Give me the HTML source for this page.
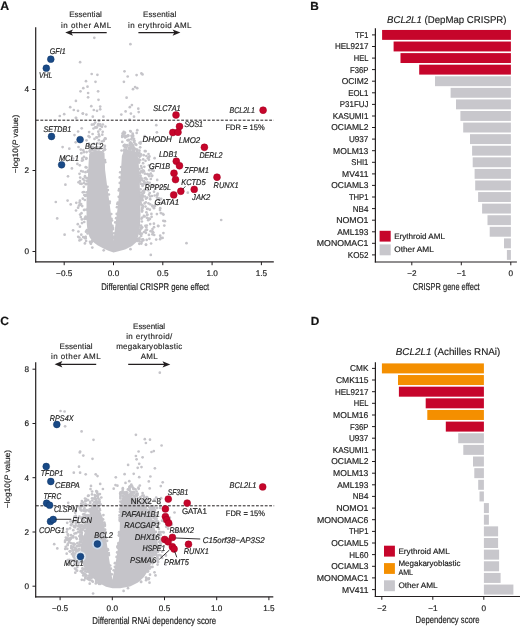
<!DOCTYPE html>
<html><head><meta charset="utf-8"><title>BCL2L1 dependency</title>
<style>
html,body{margin:0;padding:0;background:#fff;}
body{width:520px;height:627px;overflow:hidden;}
svg{display:block;font-family:"Liberation Sans",sans-serif;text-rendering:geometricPrecision;will-change:transform;}
</style></head><body>
<svg width="520" height="627" viewBox="0 0 520 627">
<rect width="520" height="627" fill="#fff"/>
<text x="0.3" y="10.4" font-size="12.3" text-anchor="start" fill="#111" stroke="#111" stroke-width="0.18" font-weight="bold" >A</text>
<text x="69.2" y="17.3" font-size="8.0" text-anchor="start" fill="#262626" stroke="#262626" stroke-width="0.15"  textLength="32.7" lengthAdjust="spacing" >Essential</text>
<text x="61.0" y="27.5" font-size="8.0" text-anchor="start" fill="#262626" stroke="#262626" stroke-width="0.15"  textLength="50.2" lengthAdjust="spacing" >in other AML</text>
<text x="143.1" y="17.3" font-size="8.0" text-anchor="start" fill="#262626" stroke="#262626" stroke-width="0.15"  textLength="33.1" lengthAdjust="spacing" >Essential</text>
<text x="128.1" y="27.5" font-size="8.0" text-anchor="start" fill="#262626" stroke="#262626" stroke-width="0.15"  textLength="63.4" lengthAdjust="spacing" >in erythroid AML</text>
<line x1="69.2" y1="32.6" x2="106.7" y2="32.6" stroke="#231f20" stroke-width="1.25" />
<path d="M65.2,32.6 L73.0,29.4 L71.2,32.6 L73.0,35.8 Z" fill="#231f20"/>
<line x1="138.4" y1="32.6" x2="176.4" y2="32.6" stroke="#231f20" stroke-width="1.25" />
<path d="M180.4,32.6 L172.6,29.4 L174.4,32.6 L172.6,35.8 Z" fill="#231f20"/>
<g fill="#c5c4c9"><circle cx="99.3" cy="148.7" r="1.35"/><circle cx="102.0" cy="126.8" r="1.35"/><circle cx="93.4" cy="147.9" r="1.35"/><circle cx="102.3" cy="134.7" r="1.35"/><circle cx="93.5" cy="128.5" r="1.35"/><circle cx="92.6" cy="134.0" r="1.35"/><circle cx="97.1" cy="137.5" r="1.35"/><circle cx="99.2" cy="151.6" r="1.35"/><circle cx="91.9" cy="124.7" r="1.35"/><circle cx="99.0" cy="120.9" r="1.35"/><circle cx="88.6" cy="136.2" r="1.35"/><circle cx="96.4" cy="149.3" r="1.35"/><circle cx="99.3" cy="136.2" r="1.35"/><circle cx="96.9" cy="127.5" r="1.35"/><circle cx="100.5" cy="126.0" r="1.35"/><circle cx="102.9" cy="124.5" r="1.35"/><circle cx="92.8" cy="148.1" r="1.35"/><circle cx="97.2" cy="147.0" r="1.35"/><circle cx="99.5" cy="143.6" r="1.35"/><circle cx="89.6" cy="137.1" r="1.35"/><circle cx="97.1" cy="147.8" r="1.35"/><circle cx="94.5" cy="138.9" r="1.35"/><circle cx="89.1" cy="132.1" r="1.35"/><circle cx="93.8" cy="124.4" r="1.35"/><circle cx="102.7" cy="131.8" r="1.35"/><circle cx="105.6" cy="138.7" r="1.35"/><circle cx="98.9" cy="140.2" r="1.35"/><circle cx="100.2" cy="124.4" r="1.35"/><circle cx="95.9" cy="127.3" r="1.35"/><circle cx="95.2" cy="122.6" r="1.35"/><circle cx="105.4" cy="126.5" r="1.35"/><circle cx="100.1" cy="129.3" r="1.35"/><circle cx="103.7" cy="141.0" r="1.35"/><circle cx="90.4" cy="147.0" r="1.35"/><circle cx="98.3" cy="124.2" r="1.35"/><circle cx="91.5" cy="149.7" r="1.35"/><circle cx="97.9" cy="125.4" r="1.35"/><circle cx="103.9" cy="140.4" r="1.35"/><circle cx="98.3" cy="131.7" r="1.35"/><circle cx="95.4" cy="127.3" r="1.35"/><circle cx="96.4" cy="137.3" r="1.35"/><circle cx="93.8" cy="143.9" r="1.35"/></g>
<g fill="#c5c4c9"><circle cx="140.6" cy="171.9" r="1.35"/><circle cx="125.2" cy="150.5" r="1.35"/><circle cx="142.5" cy="207.6" r="1.35"/><circle cx="131.3" cy="144.1" r="1.35"/><circle cx="126.8" cy="136.5" r="1.35"/><circle cx="132.0" cy="137.1" r="1.35"/><circle cx="133.0" cy="153.0" r="1.35"/><circle cx="124.4" cy="149.5" r="1.35"/><circle cx="128.7" cy="148.0" r="1.35"/><circle cx="142.9" cy="196.2" r="1.35"/><circle cx="142.3" cy="197.8" r="1.35"/><circle cx="127.6" cy="140.2" r="1.35"/><circle cx="139.7" cy="180.1" r="1.35"/><circle cx="129.3" cy="147.6" r="1.35"/><circle cx="130.8" cy="131.6" r="1.35"/><circle cx="142.0" cy="210.1" r="1.35"/><circle cx="121.6" cy="150.5" r="1.35"/><circle cx="139.4" cy="169.1" r="1.35"/><circle cx="142.3" cy="217.6" r="1.35"/><circle cx="123.6" cy="145.8" r="1.35"/><circle cx="124.1" cy="150.7" r="1.35"/><circle cx="140.6" cy="189.3" r="1.35"/><circle cx="141.1" cy="225.7" r="1.35"/><circle cx="140.8" cy="192.6" r="1.35"/><circle cx="142.8" cy="206.1" r="1.35"/><circle cx="131.2" cy="147.1" r="1.35"/><circle cx="122.3" cy="135.8" r="1.35"/><circle cx="142.6" cy="200.2" r="1.35"/><circle cx="140.1" cy="178.2" r="1.35"/><circle cx="130.2" cy="131.0" r="1.35"/><circle cx="125.0" cy="132.7" r="1.35"/><circle cx="140.5" cy="199.8" r="1.35"/><circle cx="133.0" cy="145.3" r="1.35"/><circle cx="141.9" cy="221.5" r="1.35"/><circle cx="138.6" cy="161.1" r="1.35"/><circle cx="125.5" cy="136.1" r="1.35"/><circle cx="130.0" cy="143.2" r="1.35"/><circle cx="141.1" cy="166.0" r="1.35"/><circle cx="134.0" cy="138.8" r="1.35"/><circle cx="140.6" cy="198.1" r="1.35"/><circle cx="125.1" cy="145.4" r="1.35"/><circle cx="128.1" cy="140.3" r="1.35"/><circle cx="128.3" cy="135.9" r="1.35"/><circle cx="142.1" cy="197.8" r="1.35"/><circle cx="133.2" cy="136.0" r="1.35"/><circle cx="141.4" cy="228.6" r="1.35"/><circle cx="142.4" cy="184.3" r="1.35"/><circle cx="124.3" cy="136.3" r="1.35"/><circle cx="141.3" cy="195.5" r="1.35"/><circle cx="131.5" cy="135.8" r="1.35"/><circle cx="138.6" cy="159.6" r="1.35"/><circle cx="131.7" cy="144.2" r="1.35"/><circle cx="133.0" cy="146.0" r="1.35"/><circle cx="142.2" cy="227.3" r="1.35"/><circle cx="142.4" cy="180.3" r="1.35"/><circle cx="133.0" cy="149.1" r="1.35"/><circle cx="124.5" cy="133.7" r="1.35"/><circle cx="131.2" cy="139.3" r="1.35"/><circle cx="128.9" cy="139.8" r="1.35"/><circle cx="122.2" cy="136.9" r="1.35"/><circle cx="142.2" cy="210.5" r="1.35"/><circle cx="126.9" cy="151.2" r="1.35"/><circle cx="139.7" cy="173.2" r="1.35"/><circle cx="133.1" cy="150.0" r="1.35"/><circle cx="125.1" cy="137.0" r="1.35"/><circle cx="131.0" cy="146.5" r="1.35"/><circle cx="135.4" cy="144.1" r="1.35"/><circle cx="141.2" cy="199.2" r="1.35"/><circle cx="134.3" cy="142.4" r="1.35"/><circle cx="128.1" cy="135.3" r="1.35"/><circle cx="130.3" cy="142.3" r="1.35"/><circle cx="140.5" cy="198.5" r="1.35"/><circle cx="125.2" cy="137.5" r="1.35"/><circle cx="127.4" cy="145.7" r="1.35"/><circle cx="123.7" cy="131.9" r="1.35"/><circle cx="134.0" cy="147.6" r="1.35"/><circle cx="132.9" cy="135.1" r="1.35"/><circle cx="131.3" cy="143.0" r="1.35"/><circle cx="132.4" cy="137.8" r="1.35"/><circle cx="142.3" cy="208.2" r="1.35"/><circle cx="122.7" cy="133.3" r="1.35"/><circle cx="136.3" cy="144.8" r="1.35"/><circle cx="123.0" cy="134.4" r="1.35"/><circle cx="127.1" cy="145.1" r="1.35"/><circle cx="133.7" cy="140.4" r="1.35"/></g>
<g fill="#c5c4c9"><circle cx="143.0" cy="239.3" r="1.35"/><circle cx="149.0" cy="194.7" r="1.35"/><circle cx="157.1" cy="194.8" r="1.35"/><circle cx="161.1" cy="198.8" r="1.35"/><circle cx="154.0" cy="191.7" r="1.35"/><circle cx="148.5" cy="203.3" r="1.35"/><circle cx="145.4" cy="225.8" r="1.35"/><circle cx="151.6" cy="169.7" r="1.35"/><circle cx="141.2" cy="235.9" r="1.35"/><circle cx="148.3" cy="190.2" r="1.35"/><circle cx="163.5" cy="214.6" r="1.35"/><circle cx="151.4" cy="213.9" r="1.35"/><circle cx="140.5" cy="143.6" r="1.35"/><circle cx="161.8" cy="202.9" r="1.35"/><circle cx="147.3" cy="174.0" r="1.35"/><circle cx="146.9" cy="217.8" r="1.35"/><circle cx="152.3" cy="231.3" r="1.35"/><circle cx="144.9" cy="173.7" r="1.35"/><circle cx="146.0" cy="244.7" r="1.35"/><circle cx="150.8" cy="173.6" r="1.35"/><circle cx="145.6" cy="230.4" r="1.35"/><circle cx="159.0" cy="198.4" r="1.35"/><circle cx="156.9" cy="214.1" r="1.35"/><circle cx="160.1" cy="239.2" r="1.35"/><circle cx="160.2" cy="235.7" r="1.35"/><circle cx="148.7" cy="157.4" r="1.35"/><circle cx="145.6" cy="178.2" r="1.35"/><circle cx="154.0" cy="208.2" r="1.35"/><circle cx="147.8" cy="208.8" r="1.35"/><circle cx="148.5" cy="154.0" r="1.35"/><circle cx="147.5" cy="182.3" r="1.35"/><circle cx="160.8" cy="213.1" r="1.35"/><circle cx="158.4" cy="226.1" r="1.35"/><circle cx="152.4" cy="170.6" r="1.35"/><circle cx="155.4" cy="204.5" r="1.35"/><circle cx="145.5" cy="206.6" r="1.35"/><circle cx="148.6" cy="218.6" r="1.35"/><circle cx="146.8" cy="225.5" r="1.35"/><circle cx="150.2" cy="199.2" r="1.35"/><circle cx="157.2" cy="195.5" r="1.35"/><circle cx="146.0" cy="244.8" r="1.35"/><circle cx="160.2" cy="208.2" r="1.35"/><circle cx="163.3" cy="220.8" r="1.35"/><circle cx="147.1" cy="209.0" r="1.35"/><circle cx="148.2" cy="220.2" r="1.35"/><circle cx="149.4" cy="156.4" r="1.35"/><circle cx="162.7" cy="213.9" r="1.35"/><circle cx="159.1" cy="199.9" r="1.35"/><circle cx="160.1" cy="187.9" r="1.35"/><circle cx="154.0" cy="227.2" r="1.35"/><circle cx="158.0" cy="225.9" r="1.35"/><circle cx="152.4" cy="234.3" r="1.35"/><circle cx="141.9" cy="233.7" r="1.35"/><circle cx="155.7" cy="188.7" r="1.35"/><circle cx="150.6" cy="231.2" r="1.35"/><circle cx="150.2" cy="196.5" r="1.35"/><circle cx="152.8" cy="232.2" r="1.35"/><circle cx="144.6" cy="216.4" r="1.35"/><circle cx="153.6" cy="170.8" r="1.35"/><circle cx="145.9" cy="232.8" r="1.35"/><circle cx="159.7" cy="186.7" r="1.35"/><circle cx="149.9" cy="218.9" r="1.35"/><circle cx="149.4" cy="219.1" r="1.35"/><circle cx="162.6" cy="237.9" r="1.35"/><circle cx="148.9" cy="234.9" r="1.35"/><circle cx="160.8" cy="237.9" r="1.35"/><circle cx="163.4" cy="233.1" r="1.35"/><circle cx="157.2" cy="179.9" r="1.35"/><circle cx="143.9" cy="171.2" r="1.35"/><circle cx="157.7" cy="193.7" r="1.35"/><circle cx="151.1" cy="243.5" r="1.35"/><circle cx="143.3" cy="240.3" r="1.35"/><circle cx="152.2" cy="175.5" r="1.35"/><circle cx="154.7" cy="195.5" r="1.35"/><circle cx="164.3" cy="225.6" r="1.35"/><circle cx="151.9" cy="196.0" r="1.35"/><circle cx="149.7" cy="182.8" r="1.35"/><circle cx="151.6" cy="216.8" r="1.35"/><circle cx="150.8" cy="179.0" r="1.35"/><circle cx="153.3" cy="232.6" r="1.35"/><circle cx="150.2" cy="224.1" r="1.35"/><circle cx="139.5" cy="142.9" r="1.35"/><circle cx="149.1" cy="176.1" r="1.35"/><circle cx="154.2" cy="235.0" r="1.35"/><circle cx="148.9" cy="159.7" r="1.35"/></g>
<path d="M113.5,252.6 L108.5,250.8 L103.5,248.5 L97.5,245.2 L92.5,241.5 L89.5,237.0 L87.5,231.0 L86.8,224.0 L86.5,212.0 L86.5,200.0 L87.2,188.0 L88.0,175.0 L88.6,163.0 L89.2,154.0 L91.0,151.5 L97.0,150.8 L102.0,151.0 L104.5,153.0 L105.1,170.0 L107.0,185.0 L109.1,200.0 L111.1,215.0 L112.6,228.0 L113.5,240.8 L115.0,228.0 L117.0,213.0 L119.0,195.0 L119.8,185.0 L121.0,170.0 L121.9,156.0 L123.5,151.5 L128.0,150.0 L134.0,150.5 L137.5,153.0 L138.8,165.0 L139.6,180.0 L140.3,200.0 L140.5,215.0 L140.0,226.0 L138.5,235.0 L136.5,242.0 L132.0,246.0 L125.0,249.5 L118.5,251.3 Z" fill="#c5c4c9"/>
<g fill="#c5c4c9"><circle cx="82.0" cy="223.1" r="1.35"/><circle cx="142.6" cy="171.3" r="1.35"/><circle cx="82.3" cy="158.4" r="1.35"/><circle cx="141.1" cy="204.3" r="1.35"/><circle cx="147.2" cy="215.0" r="1.35"/><circle cx="84.3" cy="195.0" r="1.35"/><circle cx="119.8" cy="177.4" r="1.35"/><circle cx="139.3" cy="153.0" r="1.35"/><circle cx="141.2" cy="171.4" r="1.35"/><circle cx="105.0" cy="160.0" r="1.35"/><circle cx="109.8" cy="201.7" r="1.35"/><circle cx="141.7" cy="167.9" r="1.35"/><circle cx="86.2" cy="218.8" r="1.35"/><circle cx="102.0" cy="141.5" r="1.35"/><circle cx="153.9" cy="223.7" r="1.35"/><circle cx="143.7" cy="155.2" r="1.35"/><circle cx="105.1" cy="138.7" r="1.35"/><circle cx="85.9" cy="184.2" r="1.35"/><circle cx="98.1" cy="149.3" r="1.35"/><circle cx="130.5" cy="249.2" r="1.35"/><circle cx="144.6" cy="203.4" r="1.35"/><circle cx="142.5" cy="185.9" r="1.35"/><circle cx="137.0" cy="240.6" r="1.35"/><circle cx="83.0" cy="171.6" r="1.35"/><circle cx="142.7" cy="172.5" r="1.35"/><circle cx="86.4" cy="195.4" r="1.35"/><circle cx="140.6" cy="228.1" r="1.35"/><circle cx="87.6" cy="233.5" r="1.35"/><circle cx="73.1" cy="230.3" r="1.35"/><circle cx="134.5" cy="140.8" r="1.35"/><circle cx="145.8" cy="202.3" r="1.35"/><circle cx="140.7" cy="183.7" r="1.35"/><circle cx="134.0" cy="149.0" r="1.35"/><circle cx="140.9" cy="200.2" r="1.35"/><circle cx="119.2" cy="189.1" r="1.35"/><circle cx="67.6" cy="200.6" r="1.35"/><circle cx="139.1" cy="153.1" r="1.35"/><circle cx="160.4" cy="140.3" r="1.35"/><circle cx="145.3" cy="183.1" r="1.35"/><circle cx="152.5" cy="229.1" r="1.35"/><circle cx="119.8" cy="182.9" r="1.35"/><circle cx="114.0" cy="233.3" r="1.35"/><circle cx="92.0" cy="241.2" r="1.35"/><circle cx="91.6" cy="242.1" r="1.35"/><circle cx="90.9" cy="243.7" r="1.35"/><circle cx="154.8" cy="206.2" r="1.35"/><circle cx="84.2" cy="222.0" r="1.35"/><circle cx="140.3" cy="196.0" r="1.35"/><circle cx="87.2" cy="183.9" r="1.35"/><circle cx="136.7" cy="132.9" r="1.35"/><circle cx="107.9" cy="190.1" r="1.35"/><circle cx="80.8" cy="149.6" r="1.35"/><circle cx="79.5" cy="202.7" r="1.35"/><circle cx="146.7" cy="179.3" r="1.35"/><circle cx="156.2" cy="239.6" r="1.35"/><circle cx="139.5" cy="237.9" r="1.35"/><circle cx="141.0" cy="195.3" r="1.35"/><circle cx="104.9" cy="145.9" r="1.35"/><circle cx="80.1" cy="214.6" r="1.35"/><circle cx="77.8" cy="224.2" r="1.35"/><circle cx="98.8" cy="134.4" r="1.35"/><circle cx="140.2" cy="233.3" r="1.35"/><circle cx="156.9" cy="132.3" r="1.35"/><circle cx="120.2" cy="172.3" r="1.35"/><circle cx="144.4" cy="189.9" r="1.35"/><circle cx="80.0" cy="181.1" r="1.35"/><circle cx="143.9" cy="215.9" r="1.35"/><circle cx="116.7" cy="213.9" r="1.35"/><circle cx="138.4" cy="154.9" r="1.35"/><circle cx="78.5" cy="147.0" r="1.35"/><circle cx="134.3" cy="150.1" r="1.35"/><circle cx="132.3" cy="146.7" r="1.35"/><circle cx="126.4" cy="149.5" r="1.35"/><circle cx="138.1" cy="239.1" r="1.35"/><circle cx="84.0" cy="182.9" r="1.35"/><circle cx="83.9" cy="192.0" r="1.35"/><circle cx="137.4" cy="241.0" r="1.35"/><circle cx="144.0" cy="232.0" r="1.35"/><circle cx="148.7" cy="174.9" r="1.35"/><circle cx="81.5" cy="213.2" r="1.35"/><circle cx="82.8" cy="192.3" r="1.35"/><circle cx="92.5" cy="147.1" r="1.35"/><circle cx="140.2" cy="147.3" r="1.35"/><circle cx="79.0" cy="205.5" r="1.35"/><circle cx="85.7" cy="238.5" r="1.35"/><circle cx="160.0" cy="210.1" r="1.35"/><circle cx="84.8" cy="238.0" r="1.35"/><circle cx="126.2" cy="147.6" r="1.35"/><circle cx="80.8" cy="217.1" r="1.35"/><circle cx="149.4" cy="238.8" r="1.35"/><circle cx="85.2" cy="195.9" r="1.35"/><circle cx="85.5" cy="172.2" r="1.35"/><circle cx="85.4" cy="237.1" r="1.35"/><circle cx="89.9" cy="151.6" r="1.35"/><circle cx="112.9" cy="227.6" r="1.35"/><circle cx="81.3" cy="153.2" r="1.35"/><circle cx="105.2" cy="162.2" r="1.35"/><circle cx="141.7" cy="241.8" r="1.35"/><circle cx="149.2" cy="170.2" r="1.35"/><circle cx="84.9" cy="243.4" r="1.35"/><circle cx="87.6" cy="180.5" r="1.35"/><circle cx="141.0" cy="154.3" r="1.35"/><circle cx="142.0" cy="239.5" r="1.35"/><circle cx="82.8" cy="198.7" r="1.35"/><circle cx="137.8" cy="154.1" r="1.35"/><circle cx="84.8" cy="200.0" r="1.35"/><circle cx="137.3" cy="149.7" r="1.35"/><circle cx="79.5" cy="240.4" r="1.35"/><circle cx="129.4" cy="149.2" r="1.35"/><circle cx="153.7" cy="185.0" r="1.35"/><circle cx="91.6" cy="150.2" r="1.35"/><circle cx="139.0" cy="239.7" r="1.35"/><circle cx="149.0" cy="165.3" r="1.35"/><circle cx="137.2" cy="150.6" r="1.35"/><circle cx="130.8" cy="143.1" r="1.35"/><circle cx="144.3" cy="166.8" r="1.35"/><circle cx="147.2" cy="197.7" r="1.35"/><circle cx="144.8" cy="178.3" r="1.35"/><circle cx="138.9" cy="159.5" r="1.35"/><circle cx="143.2" cy="159.4" r="1.35"/><circle cx="79.8" cy="165.3" r="1.35"/><circle cx="79.4" cy="237.5" r="1.35"/><circle cx="140.1" cy="234.1" r="1.35"/><circle cx="146.4" cy="212.3" r="1.35"/><circle cx="112.0" cy="220.5" r="1.35"/><circle cx="145.8" cy="189.6" r="1.35"/><circle cx="135.6" cy="149.1" r="1.35"/><circle cx="124.4" cy="145.1" r="1.35"/><circle cx="96.6" cy="147.8" r="1.35"/><circle cx="137.3" cy="130.2" r="1.35"/><circle cx="144.6" cy="183.3" r="1.35"/><circle cx="139.9" cy="230.3" r="1.35"/><circle cx="145.5" cy="160.8" r="1.35"/><circle cx="111.3" cy="214.0" r="1.35"/><circle cx="142.5" cy="170.6" r="1.35"/><circle cx="91.0" cy="149.2" r="1.35"/><circle cx="83.0" cy="160.1" r="1.35"/><circle cx="77.4" cy="163.9" r="1.35"/><circle cx="140.1" cy="160.2" r="1.35"/><circle cx="141.6" cy="178.4" r="1.35"/><circle cx="81.1" cy="239.5" r="1.35"/><circle cx="88.9" cy="143.7" r="1.35"/><circle cx="103.3" cy="150.8" r="1.35"/><circle cx="124.9" cy="146.9" r="1.35"/><circle cx="85.5" cy="218.1" r="1.35"/><circle cx="149.1" cy="174.9" r="1.35"/><circle cx="147.9" cy="183.1" r="1.35"/><circle cx="121.2" cy="167.0" r="1.35"/><circle cx="84.0" cy="156.8" r="1.35"/><circle cx="78.4" cy="231.5" r="1.35"/><circle cx="82.9" cy="179.1" r="1.35"/><circle cx="146.3" cy="227.5" r="1.35"/><circle cx="122.3" cy="141.9" r="1.35"/><circle cx="144.1" cy="192.0" r="1.35"/><circle cx="143.1" cy="163.2" r="1.35"/><circle cx="153.0" cy="185.8" r="1.35"/><circle cx="149.8" cy="209.7" r="1.35"/><circle cx="105.0" cy="149.5" r="1.35"/><circle cx="103.7" cy="250.3" r="1.35"/><circle cx="104.5" cy="148.0" r="1.35"/><circle cx="83.8" cy="186.8" r="1.35"/><circle cx="82.2" cy="206.1" r="1.35"/><circle cx="112.4" cy="225.8" r="1.35"/><circle cx="87.0" cy="178.2" r="1.35"/><circle cx="117.3" cy="204.0" r="1.35"/><circle cx="142.0" cy="211.6" r="1.35"/><circle cx="80.2" cy="177.6" r="1.35"/><circle cx="146.0" cy="198.7" r="1.35"/><circle cx="144.8" cy="151.1" r="1.35"/><circle cx="139.5" cy="150.7" r="1.35"/><circle cx="85.0" cy="217.9" r="1.35"/><circle cx="86.1" cy="158.8" r="1.35"/><circle cx="139.7" cy="181.6" r="1.35"/><circle cx="129.6" cy="119.7" r="1.35"/><circle cx="139.4" cy="233.5" r="1.35"/><circle cx="142.9" cy="191.2" r="1.35"/><circle cx="147.3" cy="214.6" r="1.35"/><circle cx="79.8" cy="205.0" r="1.35"/><circle cx="130.7" cy="148.2" r="1.35"/><circle cx="76.3" cy="202.8" r="1.35"/><circle cx="86.6" cy="152.1" r="1.35"/><circle cx="140.7" cy="142.0" r="1.35"/><circle cx="139.9" cy="231.8" r="1.35"/><circle cx="87.3" cy="181.2" r="1.35"/><circle cx="145.6" cy="151.2" r="1.35"/><circle cx="104.9" cy="138.7" r="1.35"/><circle cx="143.7" cy="193.1" r="1.35"/><circle cx="84.0" cy="210.0" r="1.35"/><circle cx="85.0" cy="177.5" r="1.35"/><circle cx="86.4" cy="158.2" r="1.35"/><circle cx="139.6" cy="156.8" r="1.35"/><circle cx="84.5" cy="209.9" r="1.35"/><circle cx="85.7" cy="216.7" r="1.35"/><circle cx="139.9" cy="178.7" r="1.35"/><circle cx="144.7" cy="136.0" r="1.35"/><circle cx="115.3" cy="222.4" r="1.35"/><circle cx="141.3" cy="243.6" r="1.35"/><circle cx="146.4" cy="156.0" r="1.35"/><circle cx="81.9" cy="160.7" r="1.35"/><circle cx="118.8" cy="190.4" r="1.35"/><circle cx="129.7" cy="145.2" r="1.35"/><circle cx="97.1" cy="143.2" r="1.35"/><circle cx="111.5" cy="218.8" r="1.35"/><circle cx="83.1" cy="237.1" r="1.35"/><circle cx="85.7" cy="167.2" r="1.35"/><circle cx="85.5" cy="195.4" r="1.35"/><circle cx="79.5" cy="173.8" r="1.35"/><circle cx="87.3" cy="231.3" r="1.35"/><circle cx="144.9" cy="196.5" r="1.35"/><circle cx="113.7" cy="236.5" r="1.35"/><circle cx="84.5" cy="219.0" r="1.35"/><circle cx="116.1" cy="218.2" r="1.35"/><circle cx="139.9" cy="175.6" r="1.35"/><circle cx="81.7" cy="183.8" r="1.35"/><circle cx="139.1" cy="162.6" r="1.35"/><circle cx="146.0" cy="184.6" r="1.35"/><circle cx="112.7" cy="229.3" r="1.35"/><circle cx="86.0" cy="231.7" r="1.35"/><circle cx="81.9" cy="219.4" r="1.35"/><circle cx="143.0" cy="184.8" r="1.35"/><circle cx="89.4" cy="145.9" r="1.35"/><circle cx="151.7" cy="176.2" r="1.35"/><circle cx="150.2" cy="204.3" r="1.35"/><circle cx="141.5" cy="218.7" r="1.35"/><circle cx="147.9" cy="158.2" r="1.35"/><circle cx="139.5" cy="241.4" r="1.35"/><circle cx="147.0" cy="229.8" r="1.35"/><circle cx="81.1" cy="204.1" r="1.35"/><circle cx="118.7" cy="196.8" r="1.35"/><circle cx="117.0" cy="207.2" r="1.35"/><circle cx="87.7" cy="171.7" r="1.35"/><circle cx="86.0" cy="217.3" r="1.35"/><circle cx="86.5" cy="209.6" r="1.35"/><circle cx="89.7" cy="150.9" r="1.35"/><circle cx="143.3" cy="170.5" r="1.35"/><circle cx="78.1" cy="207.7" r="1.35"/><circle cx="81.3" cy="234.7" r="1.35"/><circle cx="157.0" cy="197.6" r="1.35"/><circle cx="86.1" cy="241.0" r="1.35"/><circle cx="79.9" cy="226.7" r="1.35"/><circle cx="140.6" cy="175.9" r="1.35"/><circle cx="91.6" cy="149.2" r="1.35"/><circle cx="86.9" cy="230.2" r="1.35"/><circle cx="149.8" cy="193.0" r="1.35"/><circle cx="83.9" cy="152.2" r="1.35"/><circle cx="186.5" cy="243.2" r="1.35"/><circle cx="140.5" cy="202.2" r="1.35"/><circle cx="139.7" cy="230.6" r="1.35"/><circle cx="132.7" cy="133.5" r="1.35"/><circle cx="113.7" cy="238.2" r="1.35"/><circle cx="130.5" cy="149.6" r="1.35"/><circle cx="90.0" cy="241.8" r="1.35"/><circle cx="139.3" cy="239.4" r="1.35"/><circle cx="146.7" cy="239.9" r="1.35"/><circle cx="108.9" cy="194.5" r="1.35"/><circle cx="154.6" cy="158.2" r="1.35"/><circle cx="88.1" cy="170.6" r="1.35"/><circle cx="144.3" cy="181.4" r="1.35"/><circle cx="101.1" cy="148.3" r="1.35"/><circle cx="90.7" cy="242.9" r="1.35"/><circle cx="152.4" cy="205.6" r="1.35"/><circle cx="92.3" cy="247.6" r="1.35"/><circle cx="85.7" cy="236.9" r="1.35"/><circle cx="126.4" cy="136.0" r="1.35"/><circle cx="79.9" cy="200.7" r="1.35"/><circle cx="129.4" cy="148.3" r="1.35"/><circle cx="152.6" cy="206.4" r="1.35"/><circle cx="137.0" cy="151.5" r="1.35"/><circle cx="90.2" cy="149.0" r="1.35"/><circle cx="140.3" cy="198.3" r="1.35"/><circle cx="81.1" cy="171.1" r="1.35"/><circle cx="80.3" cy="183.7" r="1.35"/><circle cx="78.5" cy="182.3" r="1.35"/><circle cx="137.2" cy="151.9" r="1.35"/><circle cx="140.6" cy="155.8" r="1.35"/><circle cx="142.2" cy="205.2" r="1.35"/><circle cx="141.5" cy="197.0" r="1.35"/><circle cx="113.0" cy="228.8" r="1.35"/><circle cx="86.5" cy="167.5" r="1.35"/><circle cx="124.8" cy="144.9" r="1.35"/><circle cx="187.8" cy="192.7" r="1.35"/><circle cx="109.5" cy="203.2" r="1.35"/><circle cx="140.2" cy="179.8" r="1.35"/><circle cx="84.5" cy="180.5" r="1.35"/><circle cx="117.8" cy="202.5" r="1.35"/><circle cx="143.7" cy="183.7" r="1.35"/><circle cx="100.4" cy="147.2" r="1.35"/><circle cx="94.2" cy="150.4" r="1.35"/><circle cx="138.7" cy="155.9" r="1.35"/><circle cx="86.5" cy="192.4" r="1.35"/><circle cx="152.7" cy="170.2" r="1.35"/><circle cx="73.1" cy="158.5" r="1.35"/><circle cx="139.3" cy="243.8" r="1.35"/><circle cx="104.9" cy="149.6" r="1.35"/><circle cx="85.0" cy="176.2" r="1.35"/><circle cx="142.5" cy="193.9" r="1.35"/><circle cx="107.5" cy="186.8" r="1.35"/><circle cx="95.3" cy="149.9" r="1.35"/><circle cx="150.8" cy="254.9" r="1.35"/><circle cx="164.9" cy="221.2" r="1.35"/><circle cx="94.3" cy="37.8" r="1.35"/><circle cx="130.4" cy="44.2" r="1.35"/><circle cx="80.1" cy="62.2" r="1.35"/><circle cx="91.7" cy="74.0" r="1.35"/><circle cx="97.4" cy="74.8" r="1.35"/><circle cx="86.0" cy="81.2" r="1.35"/><circle cx="95.5" cy="81.8" r="1.35"/><circle cx="83.3" cy="88.2" r="1.35"/><circle cx="87.5" cy="86.7" r="1.35"/><circle cx="80.5" cy="91.3" r="1.35"/><circle cx="88.1" cy="93.0" r="1.35"/><circle cx="98.1" cy="91.3" r="1.35"/><circle cx="88.1" cy="97.3" r="1.35"/><circle cx="98.5" cy="99.8" r="1.35"/><circle cx="75.9" cy="100.9" r="1.35"/><circle cx="91.3" cy="106.2" r="1.35"/><circle cx="100.2" cy="106.6" r="1.35"/><circle cx="70.2" cy="107.2" r="1.35"/><circle cx="73.8" cy="110.0" r="1.35"/><circle cx="78.0" cy="110.8" r="1.35"/><circle cx="93.8" cy="110.0" r="1.35"/><circle cx="97.0" cy="110.8" r="1.35"/><circle cx="100.2" cy="109.3" r="1.35"/><circle cx="64.2" cy="114.2" r="1.35"/><circle cx="82.8" cy="113.6" r="1.35"/><circle cx="86.4" cy="114.6" r="1.35"/><circle cx="92.8" cy="116.7" r="1.35"/><circle cx="103.4" cy="116.7" r="1.35"/><circle cx="75.9" cy="117.8" r="1.35"/><circle cx="124.5" cy="71.3" r="1.35"/><circle cx="127.7" cy="76.5" r="1.35"/><circle cx="136.6" cy="75.1" r="1.35"/><circle cx="141.4" cy="73.4" r="1.35"/><circle cx="142.5" cy="74.4" r="1.35"/><circle cx="123.9" cy="81.8" r="1.35"/><circle cx="135.1" cy="87.1" r="1.35"/><circle cx="133.0" cy="89.2" r="1.35"/><circle cx="137.2" cy="88.2" r="1.35"/><circle cx="126.6" cy="97.7" r="1.35"/><circle cx="131.9" cy="105.1" r="1.35"/><circle cx="129.8" cy="107.2" r="1.35"/><circle cx="138.3" cy="108.7" r="1.35"/><circle cx="138.7" cy="112.1" r="1.35"/><circle cx="125.6" cy="111.4" r="1.35"/><circle cx="121.3" cy="114.6" r="1.35"/><circle cx="130.9" cy="113.6" r="1.35"/><circle cx="134.0" cy="116.7" r="1.35"/><circle cx="156.3" cy="125.2" r="1.35"/><circle cx="62.6" cy="147.1" r="1.35"/><circle cx="69.3" cy="148.7" r="1.35"/><circle cx="75.7" cy="142.3" r="1.35"/><circle cx="74.5" cy="135.1" r="1.35"/><circle cx="78.1" cy="131.5" r="1.35"/><circle cx="81.7" cy="128.3" r="1.35"/><circle cx="76.1" cy="118.0" r="1.35"/><circle cx="83.3" cy="150.2" r="1.35"/><circle cx="86.5" cy="140.3" r="1.35"/><circle cx="59.8" cy="116.0" r="1.35"/><circle cx="82.9" cy="113.6" r="1.35"/><circle cx="221.2" cy="220.0" r="1.35"/><circle cx="55.8" cy="202.0" r="1.35"/><circle cx="57.2" cy="218.4" r="1.35"/><circle cx="64.6" cy="234.7" r="1.35"/><circle cx="65.4" cy="184.7" r="1.35"/><circle cx="70.7" cy="204.4" r="1.35"/><circle cx="71.9" cy="168.4" r="1.35"/><circle cx="68.0" cy="176.3" r="1.35"/><circle cx="78.2" cy="236.8" r="1.35"/><circle cx="76.0" cy="210.5" r="1.35"/></g>
<line x1="35.7" y1="27.2" x2="35.7" y2="262.4" stroke="#231f20" stroke-width="1.2" />
<line x1="35.1" y1="261.9" x2="273.8" y2="261.9" stroke="#231f20" stroke-width="1.2" />
<line x1="32.5" y1="251.5" x2="35.7" y2="251.5" stroke="#231f20" stroke-width="1.0" />
<text x="29.0" y="254.4" font-size="8.2" text-anchor="end" fill="#1c1c1c" stroke="#1c1c1c" stroke-width="0.18"  >0</text>
<line x1="32.5" y1="170.5" x2="35.7" y2="170.5" stroke="#231f20" stroke-width="1.0" />
<text x="29.0" y="173.4" font-size="8.2" text-anchor="end" fill="#1c1c1c" stroke="#1c1c1c" stroke-width="0.18"  >2</text>
<line x1="32.5" y1="89.5" x2="35.7" y2="89.5" stroke="#231f20" stroke-width="1.0" />
<text x="29.0" y="92.4" font-size="8.2" text-anchor="end" fill="#1c1c1c" stroke="#1c1c1c" stroke-width="0.18"  >4</text>
<line x1="64.2" y1="261.9" x2="64.2" y2="265.2" stroke="#231f20" stroke-width="1.0" />
<text x="64.2" y="275.8" font-size="8.2" text-anchor="middle" fill="#1c1c1c" stroke="#1c1c1c" stroke-width="0.18"  >−0.5</text>
<line x1="113.5" y1="261.9" x2="113.5" y2="265.2" stroke="#231f20" stroke-width="1.0" />
<text x="113.5" y="275.8" font-size="8.2" text-anchor="middle" fill="#1c1c1c" stroke="#1c1c1c" stroke-width="0.18"  >0.0</text>
<line x1="162.8" y1="261.9" x2="162.8" y2="265.2" stroke="#231f20" stroke-width="1.0" />
<text x="162.8" y="275.8" font-size="8.2" text-anchor="middle" fill="#1c1c1c" stroke="#1c1c1c" stroke-width="0.18"  >0.5</text>
<line x1="212.1" y1="261.9" x2="212.1" y2="265.2" stroke="#231f20" stroke-width="1.0" />
<text x="212.1" y="275.8" font-size="8.2" text-anchor="middle" fill="#1c1c1c" stroke="#1c1c1c" stroke-width="0.18"  >1.0</text>
<line x1="261.4" y1="261.9" x2="261.4" y2="265.2" stroke="#231f20" stroke-width="1.0" />
<text x="261.4" y="275.8" font-size="8.2" text-anchor="middle" fill="#1c1c1c" stroke="#1c1c1c" stroke-width="0.18"  >1.5</text>
<text x="101.2" y="289.6" font-size="9.7" text-anchor="start" fill="#1c1c1c" stroke="#1c1c1c" stroke-width="0.18"  textLength="108.0" lengthAdjust="spacingAndGlyphs" >Differential CRISPR gene effect</text>
<text transform="translate(18.3,144) rotate(-90)" font-size="7.9" text-anchor="middle" fill="#1c1c1c" stroke="#1c1c1c" stroke-width="0.15" textLength="58.7" lengthAdjust="spacingAndGlyphs">−log10(<tspan font-style="italic">P</tspan> value)</text>
<line x1="36.0" y1="120.2" x2="273.8" y2="120.2" stroke="#231f20" stroke-width="1.0" stroke-dasharray="2.8 1.6"/>
<text x="225.4" y="129.6" font-size="8" text-anchor="start" fill="#1c1c1c" stroke="#1c1c1c" stroke-width="0.18"  textLength="39.2" lengthAdjust="spacingAndGlyphs" >FDR = 15%</text>
<circle cx="263.1" cy="110.2" r="3.45" fill="#c6052b" stroke="#a30020" stroke-width="0.5"/>
<circle cx="176.0" cy="115.0" r="3.45" fill="#c6052b" stroke="#a30020" stroke-width="0.5"/>
<circle cx="179.5" cy="126.5" r="3.45" fill="#c6052b" stroke="#a30020" stroke-width="0.5"/>
<circle cx="172.8" cy="132.5" r="3.45" fill="#c6052b" stroke="#a30020" stroke-width="0.5"/>
<circle cx="178.0" cy="132.2" r="3.45" fill="#c6052b" stroke="#a30020" stroke-width="0.5"/>
<circle cx="204.4" cy="147.3" r="3.45" fill="#c6052b" stroke="#a30020" stroke-width="0.5"/>
<circle cx="176.3" cy="161.2" r="3.45" fill="#c6052b" stroke="#a30020" stroke-width="0.5"/>
<circle cx="179.5" cy="165.8" r="3.45" fill="#c6052b" stroke="#a30020" stroke-width="0.5"/>
<circle cx="174.0" cy="173.3" r="3.45" fill="#c6052b" stroke="#a30020" stroke-width="0.5"/>
<circle cx="175.5" cy="179.6" r="3.45" fill="#c6052b" stroke="#a30020" stroke-width="0.5"/>
<circle cx="180.8" cy="191.3" r="3.45" fill="#c6052b" stroke="#a30020" stroke-width="0.5"/>
<circle cx="173.7" cy="194.9" r="3.45" fill="#c6052b" stroke="#a30020" stroke-width="0.5"/>
<circle cx="194.2" cy="189.4" r="3.45" fill="#c6052b" stroke="#a30020" stroke-width="0.5"/>
<circle cx="217.0" cy="177.2" r="3.45" fill="#c6052b" stroke="#a30020" stroke-width="0.5"/>
<circle cx="50.8" cy="59.2" r="3.4" fill="#194a87" stroke="#0f3566" stroke-width="0.5"/>
<circle cx="46.3" cy="68.2" r="3.4" fill="#194a87" stroke="#0f3566" stroke-width="0.5"/>
<circle cx="51.5" cy="136.5" r="3.4" fill="#194a87" stroke="#0f3566" stroke-width="0.5"/>
<circle cx="80.1" cy="139.6" r="3.4" fill="#194a87" stroke="#0f3566" stroke-width="0.5"/>
<circle cx="61.6" cy="164.8" r="3.4" fill="#194a87" stroke="#0f3566" stroke-width="0.5"/>
<line x1="185.4" y1="186.4" x2="182.8" y2="189.2" stroke="#231f20" stroke-width="0.8" />
<text x="49.8" y="54.4" font-size="8.3" text-anchor="start" fill="#1c1c1c" stroke="#1c1c1c" stroke-width="0.18" font-style="italic" textLength="15.8" lengthAdjust="spacingAndGlyphs" >GFI1</text>
<text x="39.0" y="78.3" font-size="8.3" text-anchor="start" fill="#1c1c1c" stroke="#1c1c1c" stroke-width="0.18" font-style="italic" textLength="13.3" lengthAdjust="spacingAndGlyphs" >VHL</text>
<text x="43.4" y="132.2" font-size="8.3" text-anchor="start" fill="#1c1c1c" stroke="#1c1c1c" stroke-width="0.18" font-style="italic" textLength="27.9" lengthAdjust="spacingAndGlyphs" >SETDB1</text>
<text x="85.1" y="149.3" font-size="8.3" text-anchor="start" fill="#1c1c1c" stroke="#1c1c1c" stroke-width="0.18" font-style="italic" textLength="18.2" lengthAdjust="spacingAndGlyphs" >BCL2</text>
<text x="58.9" y="160.5" font-size="8.3" text-anchor="start" fill="#1c1c1c" stroke="#1c1c1c" stroke-width="0.18" font-style="italic" textLength="19.9" lengthAdjust="spacingAndGlyphs" >MCL1</text>
<text x="153.3" y="110.6" font-size="8.3" text-anchor="start" fill="#1c1c1c" stroke="#1c1c1c" stroke-width="0.18" font-style="italic" textLength="27.3" lengthAdjust="spacingAndGlyphs" >SLC7A1</text>
<text x="229.5" y="113.2" font-size="8.3" text-anchor="start" fill="#1c1c1c" stroke="#1c1c1c" stroke-width="0.18" font-style="italic" textLength="25.4" lengthAdjust="spacingAndGlyphs" >BCL2L1</text>
<text x="184.4" y="127.1" font-size="8.3" text-anchor="start" fill="#1c1c1c" stroke="#1c1c1c" stroke-width="0.18" font-style="italic" textLength="18.5" lengthAdjust="spacingAndGlyphs" >SOS1</text>
<text x="142.5" y="142.4" font-size="8.3" text-anchor="start" fill="#1c1c1c" stroke="#1c1c1c" stroke-width="0.18" font-style="italic" textLength="29.2" lengthAdjust="spacingAndGlyphs" >DHODH</text>
<text x="178.7" y="142.6" font-size="8.3" text-anchor="start" fill="#1c1c1c" stroke="#1c1c1c" stroke-width="0.18" font-style="italic" textLength="21.5" lengthAdjust="spacingAndGlyphs" >LMO2</text>
<text x="199.4" y="157.5" font-size="8.3" text-anchor="start" fill="#1c1c1c" stroke="#1c1c1c" stroke-width="0.18" font-style="italic" textLength="23.1" lengthAdjust="spacingAndGlyphs" >DERL2</text>
<text x="159.0" y="156.6" font-size="8.3" text-anchor="start" fill="#1c1c1c" stroke="#1c1c1c" stroke-width="0.18" font-style="italic" textLength="18.5" lengthAdjust="spacingAndGlyphs" >LDB1</text>
<text x="149.0" y="169.2" font-size="8.3" text-anchor="start" fill="#1c1c1c" stroke="#1c1c1c" stroke-width="0.18" font-style="italic" textLength="21.2" lengthAdjust="spacingAndGlyphs" >GFI1B</text>
<text x="184.0" y="173.4" font-size="8.3" text-anchor="start" fill="#1c1c1c" stroke="#1c1c1c" stroke-width="0.18" font-style="italic" textLength="24.9" lengthAdjust="spacingAndGlyphs" >ZFPM1</text>
<text x="181.3" y="184.7" font-size="8.3" text-anchor="start" fill="#1c1c1c" stroke="#1c1c1c" stroke-width="0.18" font-style="italic" textLength="24.3" lengthAdjust="spacingAndGlyphs" >KCTD5</text>
<text x="144.8" y="189.5" font-size="8.3" text-anchor="start" fill="#1c1c1c" stroke="#1c1c1c" stroke-width="0.18" font-style="italic" textLength="26.1" lengthAdjust="spacingAndGlyphs" >RPP25L</text>
<text x="213.6" y="187.6" font-size="8.3" text-anchor="start" fill="#1c1c1c" stroke="#1c1c1c" stroke-width="0.18" font-style="italic" textLength="24.9" lengthAdjust="spacingAndGlyphs" >RUNX1</text>
<text x="192.1" y="199.7" font-size="8.3" text-anchor="start" fill="#1c1c1c" stroke="#1c1c1c" stroke-width="0.18" font-style="italic" textLength="18.2" lengthAdjust="spacingAndGlyphs" >JAK2</text>
<text x="154.6" y="205.3" font-size="8.3" text-anchor="start" fill="#1c1c1c" stroke="#1c1c1c" stroke-width="0.18" font-style="italic" textLength="24.5" lengthAdjust="spacingAndGlyphs" >GATA1</text>
<text x="310.3" y="10.1" font-size="11.8" text-anchor="start" fill="#111" stroke="#111" stroke-width="0.18" font-weight="bold" >B</text>
<text x="387" y="22.9" font-size="9.9" fill="#1c1c1c" stroke="#1c1c1c" stroke-width="0.15" textLength="119.5" lengthAdjust="spacingAndGlyphs"><tspan font-style="italic">BCL2L1</tspan> (DepMap CRISPR)</text>
<rect x="382.10" y="29.95" width="128.80" height="9.90" fill="#c6052b"/>
<line x1="372.0" y1="34.9" x2="375.4" y2="34.9" stroke="#231f20" stroke-width="1.0" />
<text x="368.4" y="37.8" font-size="8.5" text-anchor="end" fill="#1c1c1c" stroke="#1c1c1c" stroke-width="0.18"  textLength="13.2" lengthAdjust="spacingAndGlyphs" >TF1</text>
<rect x="393.60" y="41.53" width="117.30" height="9.90" fill="#c6052b"/>
<line x1="372.0" y1="46.5" x2="375.4" y2="46.5" stroke="#231f20" stroke-width="1.0" />
<text x="368.4" y="49.4" font-size="8.5" text-anchor="end" fill="#1c1c1c" stroke="#1c1c1c" stroke-width="0.18"  textLength="33.4" lengthAdjust="spacingAndGlyphs" >HEL9217</text>
<rect x="400.50" y="53.11" width="110.40" height="9.90" fill="#c6052b"/>
<line x1="372.0" y1="58.1" x2="375.4" y2="58.1" stroke="#231f20" stroke-width="1.0" />
<text x="368.4" y="61.0" font-size="8.5" text-anchor="end" fill="#1c1c1c" stroke="#1c1c1c" stroke-width="0.18"  textLength="14.7" lengthAdjust="spacingAndGlyphs" >HEL</text>
<rect x="419.20" y="64.69" width="91.70" height="9.90" fill="#c6052b"/>
<line x1="372.0" y1="69.6" x2="375.4" y2="69.6" stroke="#231f20" stroke-width="1.0" />
<text x="368.4" y="72.5" font-size="8.5" text-anchor="end" fill="#1c1c1c" stroke="#1c1c1c" stroke-width="0.18"  textLength="18.4" lengthAdjust="spacingAndGlyphs" >F36P</text>
<rect x="435.00" y="76.27" width="75.90" height="9.90" fill="#c8c7cc"/>
<line x1="372.0" y1="81.2" x2="375.4" y2="81.2" stroke="#231f20" stroke-width="1.0" />
<text x="368.4" y="84.1" font-size="8.5" text-anchor="end" fill="#1c1c1c" stroke="#1c1c1c" stroke-width="0.18"  textLength="26.7" lengthAdjust="spacingAndGlyphs" >OCIM2</text>
<rect x="450.60" y="87.85" width="60.30" height="9.90" fill="#c8c7cc"/>
<line x1="372.0" y1="92.8" x2="375.4" y2="92.8" stroke="#231f20" stroke-width="1.0" />
<text x="368.4" y="95.7" font-size="8.5" text-anchor="end" fill="#1c1c1c" stroke="#1c1c1c" stroke-width="0.18"  textLength="20.2" lengthAdjust="spacingAndGlyphs" >EOL1</text>
<rect x="456.00" y="99.43" width="54.90" height="9.90" fill="#c8c7cc"/>
<line x1="372.0" y1="104.4" x2="375.4" y2="104.4" stroke="#231f20" stroke-width="1.0" />
<text x="368.4" y="107.3" font-size="8.5" text-anchor="end" fill="#1c1c1c" stroke="#1c1c1c" stroke-width="0.18"  textLength="28.6" lengthAdjust="spacingAndGlyphs" >P31FUJ</text>
<rect x="460.40" y="111.01" width="50.50" height="9.90" fill="#c8c7cc"/>
<line x1="372.0" y1="116.0" x2="375.4" y2="116.0" stroke="#231f20" stroke-width="1.0" />
<text x="368.4" y="118.9" font-size="8.5" text-anchor="end" fill="#1c1c1c" stroke="#1c1c1c" stroke-width="0.18"  textLength="35.6" lengthAdjust="spacingAndGlyphs" >KASUMI1</text>
<rect x="463.20" y="122.59" width="47.70" height="9.90" fill="#c8c7cc"/>
<line x1="372.0" y1="127.5" x2="375.4" y2="127.5" stroke="#231f20" stroke-width="1.0" />
<text x="368.4" y="130.4" font-size="8.5" text-anchor="end" fill="#1c1c1c" stroke="#1c1c1c" stroke-width="0.18"  textLength="37.2" lengthAdjust="spacingAndGlyphs" >OCIAML2</text>
<rect x="470.00" y="134.17" width="40.90" height="9.90" fill="#c8c7cc"/>
<line x1="372.0" y1="139.1" x2="375.4" y2="139.1" stroke="#231f20" stroke-width="1.0" />
<text x="368.4" y="142.0" font-size="8.5" text-anchor="end" fill="#1c1c1c" stroke="#1c1c1c" stroke-width="0.18"  textLength="19.5" lengthAdjust="spacingAndGlyphs" >U937</text>
<rect x="472.10" y="145.75" width="38.80" height="9.90" fill="#c8c7cc"/>
<line x1="372.0" y1="150.7" x2="375.4" y2="150.7" stroke="#231f20" stroke-width="1.0" />
<text x="368.4" y="153.6" font-size="8.5" text-anchor="end" fill="#1c1c1c" stroke="#1c1c1c" stroke-width="0.18"  textLength="35.3" lengthAdjust="spacingAndGlyphs" >MOLM13</text>
<rect x="472.70" y="157.33" width="38.20" height="9.90" fill="#c8c7cc"/>
<line x1="372.0" y1="162.3" x2="375.4" y2="162.3" stroke="#231f20" stroke-width="1.0" />
<text x="368.4" y="165.2" font-size="8.5" text-anchor="end" fill="#1c1c1c" stroke="#1c1c1c" stroke-width="0.18"  textLength="17.1" lengthAdjust="spacingAndGlyphs" >SHI1</text>
<rect x="474.60" y="168.91" width="36.30" height="9.90" fill="#c8c7cc"/>
<line x1="372.0" y1="173.9" x2="375.4" y2="173.9" stroke="#231f20" stroke-width="1.0" />
<text x="368.4" y="176.8" font-size="8.5" text-anchor="end" fill="#1c1c1c" stroke="#1c1c1c" stroke-width="0.18"  textLength="26.3" lengthAdjust="spacingAndGlyphs" >MV411</text>
<rect x="475.20" y="180.49" width="35.70" height="9.90" fill="#c8c7cc"/>
<line x1="372.0" y1="185.4" x2="375.4" y2="185.4" stroke="#231f20" stroke-width="1.0" />
<text x="368.4" y="188.3" font-size="8.5" text-anchor="end" fill="#1c1c1c" stroke="#1c1c1c" stroke-width="0.18"  textLength="37.1" lengthAdjust="spacingAndGlyphs" >OCIAML3</text>
<rect x="478.10" y="192.07" width="32.80" height="9.90" fill="#c8c7cc"/>
<line x1="372.0" y1="197.0" x2="375.4" y2="197.0" stroke="#231f20" stroke-width="1.0" />
<text x="368.4" y="199.9" font-size="8.5" text-anchor="end" fill="#1c1c1c" stroke="#1c1c1c" stroke-width="0.18"  textLength="19.5" lengthAdjust="spacingAndGlyphs" >THP1</text>
<rect x="482.10" y="203.65" width="28.80" height="9.90" fill="#c8c7cc"/>
<line x1="372.0" y1="208.6" x2="375.4" y2="208.6" stroke="#231f20" stroke-width="1.0" />
<text x="368.4" y="211.5" font-size="8.5" text-anchor="end" fill="#1c1c1c" stroke="#1c1c1c" stroke-width="0.18"  textLength="15.6" lengthAdjust="spacingAndGlyphs" >NB4</text>
<rect x="487.50" y="215.23" width="23.40" height="9.90" fill="#c8c7cc"/>
<line x1="372.0" y1="220.2" x2="375.4" y2="220.2" stroke="#231f20" stroke-width="1.0" />
<text x="368.4" y="223.1" font-size="8.5" text-anchor="end" fill="#1c1c1c" stroke="#1c1c1c" stroke-width="0.18"  textLength="32.2" lengthAdjust="spacingAndGlyphs" >NOMO1</text>
<rect x="489.70" y="226.81" width="21.20" height="9.90" fill="#c8c7cc"/>
<line x1="372.0" y1="231.8" x2="375.4" y2="231.8" stroke="#231f20" stroke-width="1.0" />
<text x="368.4" y="234.7" font-size="8.5" text-anchor="end" fill="#1c1c1c" stroke="#1c1c1c" stroke-width="0.18"  textLength="31.2" lengthAdjust="spacingAndGlyphs" >AML193</text>
<rect x="504.00" y="238.39" width="6.90" height="9.90" fill="#c8c7cc"/>
<line x1="372.0" y1="243.3" x2="375.4" y2="243.3" stroke="#231f20" stroke-width="1.0" />
<text x="368.4" y="246.2" font-size="8.5" text-anchor="end" fill="#1c1c1c" stroke="#1c1c1c" stroke-width="0.18"  textLength="51.6" lengthAdjust="spacingAndGlyphs" >MONOMAC1</text>
<rect x="506.90" y="249.97" width="4.00" height="9.90" fill="#c8c7cc"/>
<line x1="372.0" y1="254.9" x2="375.4" y2="254.9" stroke="#231f20" stroke-width="1.0" />
<text x="368.4" y="257.8" font-size="8.5" text-anchor="end" fill="#1c1c1c" stroke="#1c1c1c" stroke-width="0.18"  textLength="20.6" lengthAdjust="spacingAndGlyphs" >KO52</text>
<line x1="375.4" y1="28.2" x2="375.4" y2="262.5" stroke="#231f20" stroke-width="1.2" />
<line x1="374.8" y1="262.0" x2="516.9" y2="262.0" stroke="#231f20" stroke-width="1.2" />
<line x1="411.8" y1="262.0" x2="411.8" y2="265.3" stroke="#231f20" stroke-width="1.0" />
<text x="411.8" y="275.8" font-size="8.2" text-anchor="middle" fill="#1c1c1c" stroke="#1c1c1c" stroke-width="0.18"  >−2</text>
<line x1="461.3" y1="262.0" x2="461.3" y2="265.3" stroke="#231f20" stroke-width="1.0" />
<text x="461.3" y="275.8" font-size="8.2" text-anchor="middle" fill="#1c1c1c" stroke="#1c1c1c" stroke-width="0.18"  >−1</text>
<line x1="510.8" y1="262.0" x2="510.8" y2="265.3" stroke="#231f20" stroke-width="1.0" />
<text x="510.8" y="275.8" font-size="8.2" text-anchor="middle" fill="#1c1c1c" stroke="#1c1c1c" stroke-width="0.18"  >0</text>
<text x="412.8" y="289.8" font-size="9.9" text-anchor="start" fill="#1c1c1c" stroke="#1c1c1c" stroke-width="0.18"  textLength="66.9" lengthAdjust="spacingAndGlyphs" >CRISPR gene effect</text>
<rect x="379.60" y="230.80" width="11.10" height="10.80" fill="#c6052b"/>
<rect x="379.60" y="244.40" width="11.10" height="10.90" fill="#c8c7cc"/>
<text x="394.2" y="238.5" font-size="8" text-anchor="start" fill="#1c1c1c" stroke="#1c1c1c" stroke-width="0.18"  textLength="50.8" lengthAdjust="spacingAndGlyphs" >Erythroid AML</text>
<text x="394.2" y="252.4" font-size="8" text-anchor="start" fill="#1c1c1c" stroke="#1c1c1c" stroke-width="0.18"  textLength="39.6" lengthAdjust="spacingAndGlyphs" >Other AML</text>
<text x="0.3" y="325.0" font-size="12" text-anchor="start" fill="#111" stroke="#111" stroke-width="0.18" font-weight="bold" >C</text>
<text x="59.6" y="348.9" font-size="8.0" text-anchor="start" fill="#262626" stroke="#262626" stroke-width="0.15"  textLength="32.9" lengthAdjust="spacing" >Essential</text>
<text x="51.0" y="358.9" font-size="8.0" text-anchor="start" fill="#262626" stroke="#262626" stroke-width="0.15"  textLength="49.6" lengthAdjust="spacing" >in other AML</text>
<text x="133.1" y="328.8" font-size="8.0" text-anchor="start" fill="#262626" stroke="#262626" stroke-width="0.15"  textLength="32.0" lengthAdjust="spacing" >Essential</text>
<text x="126.2" y="339.1" font-size="8.0" text-anchor="start" fill="#262626" stroke="#262626" stroke-width="0.15"  textLength="46.1" lengthAdjust="spacing" >in erythroid/</text>
<text x="116.2" y="349.0" font-size="8.0" text-anchor="start" fill="#262626" stroke="#262626" stroke-width="0.15"  textLength="66.1" lengthAdjust="spacing" >megakaryoblastic</text>
<text x="140.8" y="359.3" font-size="8.0" text-anchor="start" fill="#262626" stroke="#262626" stroke-width="0.15"  textLength="16.9" lengthAdjust="spacing" >AML</text>
<line x1="58.6" y1="364.3" x2="96.2" y2="364.3" stroke="#231f20" stroke-width="1.25" />
<path d="M54.6,364.3 L62.4,361.1 L60.6,364.3 L62.4,367.5 Z" fill="#231f20"/>
<line x1="128.2" y1="364.4" x2="166.3" y2="364.4" stroke="#231f20" stroke-width="1.25" />
<path d="M170.3,364.4 L162.5,361.2 L164.3,364.4 L162.5,367.6 Z" fill="#231f20"/>
<g fill="#c5c4c9"><circle cx="129.3" cy="490.3" r="1.35"/><circle cx="85.3" cy="577.1" r="1.35"/><circle cx="82.9" cy="517.8" r="1.35"/><circle cx="77.6" cy="556.6" r="1.35"/><circle cx="86.1" cy="517.3" r="1.35"/><circle cx="99.1" cy="582.9" r="1.35"/><circle cx="73.5" cy="556.0" r="1.35"/><circle cx="142.3" cy="499.9" r="1.35"/><circle cx="153.5" cy="518.0" r="1.35"/><circle cx="143.7" cy="500.4" r="1.35"/><circle cx="76.7" cy="538.8" r="1.35"/><circle cx="131.3" cy="484.6" r="1.35"/><circle cx="83.9" cy="505.1" r="1.35"/><circle cx="85.6" cy="574.6" r="1.35"/><circle cx="67.2" cy="539.1" r="1.35"/><circle cx="65.0" cy="541.9" r="1.35"/><circle cx="147.4" cy="501.0" r="1.35"/><circle cx="82.0" cy="517.7" r="1.35"/><circle cx="98.8" cy="502.3" r="1.35"/><circle cx="84.0" cy="527.4" r="1.35"/><circle cx="150.3" cy="509.2" r="1.35"/><circle cx="155.9" cy="522.9" r="1.35"/><circle cx="74.1" cy="526.6" r="1.35"/><circle cx="70.0" cy="538.5" r="1.35"/><circle cx="81.0" cy="526.1" r="1.35"/><circle cx="81.6" cy="518.6" r="1.35"/><circle cx="104.7" cy="524.2" r="1.35"/><circle cx="155.8" cy="536.2" r="1.35"/><circle cx="117.6" cy="547.0" r="1.35"/><circle cx="88.4" cy="516.9" r="1.35"/><circle cx="75.8" cy="537.5" r="1.35"/><circle cx="87.5" cy="519.7" r="1.35"/><circle cx="80.8" cy="571.2" r="1.35"/><circle cx="154.3" cy="507.6" r="1.35"/><circle cx="121.4" cy="492.7" r="1.35"/><circle cx="88.6" cy="515.6" r="1.35"/><circle cx="87.9" cy="577.6" r="1.35"/><circle cx="151.0" cy="567.1" r="1.35"/><circle cx="120.3" cy="493.2" r="1.35"/><circle cx="88.1" cy="500.0" r="1.35"/><circle cx="75.2" cy="520.8" r="1.35"/><circle cx="79.8" cy="557.5" r="1.35"/><circle cx="85.3" cy="501.1" r="1.35"/><circle cx="66.7" cy="553.7" r="1.35"/><circle cx="118.4" cy="544.0" r="1.35"/><circle cx="150.7" cy="514.9" r="1.35"/><circle cx="156.8" cy="552.0" r="1.35"/><circle cx="67.0" cy="539.8" r="1.35"/><circle cx="124.7" cy="493.2" r="1.35"/><circle cx="73.1" cy="554.9" r="1.35"/><circle cx="145.8" cy="507.1" r="1.35"/><circle cx="74.5" cy="533.6" r="1.35"/><circle cx="155.4" cy="525.7" r="1.35"/><circle cx="96.2" cy="499.1" r="1.35"/><circle cx="91.7" cy="580.6" r="1.35"/><circle cx="92.9" cy="504.6" r="1.35"/><circle cx="130.1" cy="486.4" r="1.35"/><circle cx="98.2" cy="494.7" r="1.35"/><circle cx="95.8" cy="496.1" r="1.35"/><circle cx="110.9" cy="568.7" r="1.35"/><circle cx="130.5" cy="491.5" r="1.35"/><circle cx="159.1" cy="542.0" r="1.35"/><circle cx="77.1" cy="570.7" r="1.35"/><circle cx="66.7" cy="532.1" r="1.35"/><circle cx="73.1" cy="537.4" r="1.35"/><circle cx="96.1" cy="502.4" r="1.35"/><circle cx="147.8" cy="571.6" r="1.35"/><circle cx="74.7" cy="560.4" r="1.35"/><circle cx="75.9" cy="548.6" r="1.35"/><circle cx="84.4" cy="525.5" r="1.35"/><circle cx="78.3" cy="526.2" r="1.35"/><circle cx="75.8" cy="511.0" r="1.35"/><circle cx="141.2" cy="502.3" r="1.35"/><circle cx="89.7" cy="511.5" r="1.35"/><circle cx="86.0" cy="500.3" r="1.35"/><circle cx="156.6" cy="514.9" r="1.35"/><circle cx="73.0" cy="553.6" r="1.35"/><circle cx="65.9" cy="537.6" r="1.35"/><circle cx="132.2" cy="486.4" r="1.35"/><circle cx="156.6" cy="518.6" r="1.35"/><circle cx="126.4" cy="493.8" r="1.35"/><circle cx="84.9" cy="527.8" r="1.35"/><circle cx="113.7" cy="570.3" r="1.35"/><circle cx="71.2" cy="547.9" r="1.35"/><circle cx="160.4" cy="543.3" r="1.35"/><circle cx="101.3" cy="497.5" r="1.35"/><circle cx="81.8" cy="532.9" r="1.35"/><circle cx="154.0" cy="562.0" r="1.35"/><circle cx="76.2" cy="551.1" r="1.35"/><circle cx="90.2" cy="509.1" r="1.35"/><circle cx="139.8" cy="498.1" r="1.35"/><circle cx="73.2" cy="546.9" r="1.35"/><circle cx="104.3" cy="522.5" r="1.35"/><circle cx="65.2" cy="548.9" r="1.35"/><circle cx="75.0" cy="549.8" r="1.35"/><circle cx="105.6" cy="532.0" r="1.35"/><circle cx="80.0" cy="541.6" r="1.35"/><circle cx="118.5" cy="543.0" r="1.35"/><circle cx="83.3" cy="519.2" r="1.35"/><circle cx="159.4" cy="535.3" r="1.35"/><circle cx="92.0" cy="494.4" r="1.35"/><circle cx="81.9" cy="539.8" r="1.35"/><circle cx="86.5" cy="500.6" r="1.35"/><circle cx="159.9" cy="541.2" r="1.35"/><circle cx="68.7" cy="538.6" r="1.35"/><circle cx="81.6" cy="510.7" r="1.35"/><circle cx="70.1" cy="551.5" r="1.35"/><circle cx="86.9" cy="515.7" r="1.35"/><circle cx="76.1" cy="533.2" r="1.35"/><circle cx="151.6" cy="511.0" r="1.35"/><circle cx="153.2" cy="506.0" r="1.35"/><circle cx="82.4" cy="525.7" r="1.35"/><circle cx="88.0" cy="495.9" r="1.35"/><circle cx="91.6" cy="577.3" r="1.35"/><circle cx="76.4" cy="551.5" r="1.35"/><circle cx="92.1" cy="498.3" r="1.35"/><circle cx="137.5" cy="493.6" r="1.35"/><circle cx="90.1" cy="501.8" r="1.35"/><circle cx="78.6" cy="523.0" r="1.35"/><circle cx="157.3" cy="556.6" r="1.35"/><circle cx="83.7" cy="509.7" r="1.35"/><circle cx="149.2" cy="511.2" r="1.35"/><circle cx="70.4" cy="521.5" r="1.35"/><circle cx="142.4" cy="495.5" r="1.35"/><circle cx="156.1" cy="541.1" r="1.35"/><circle cx="156.4" cy="549.1" r="1.35"/><circle cx="133.4" cy="488.3" r="1.35"/><circle cx="153.2" cy="521.0" r="1.35"/><circle cx="82.5" cy="528.7" r="1.35"/><circle cx="94.6" cy="499.0" r="1.35"/><circle cx="81.9" cy="501.1" r="1.35"/><circle cx="71.9" cy="554.1" r="1.35"/><circle cx="155.3" cy="517.9" r="1.35"/><circle cx="136.8" cy="495.6" r="1.35"/><circle cx="78.5" cy="562.6" r="1.35"/><circle cx="79.9" cy="554.2" r="1.35"/><circle cx="145.1" cy="502.9" r="1.35"/><circle cx="66.8" cy="538.4" r="1.35"/><circle cx="158.1" cy="551.7" r="1.35"/><circle cx="78.0" cy="563.7" r="1.35"/><circle cx="105.1" cy="529.7" r="1.35"/><circle cx="72.4" cy="521.2" r="1.35"/><circle cx="78.5" cy="560.4" r="1.35"/><circle cx="83.1" cy="505.7" r="1.35"/><circle cx="87.9" cy="579.0" r="1.35"/><circle cx="157.1" cy="549.5" r="1.35"/><circle cx="79.7" cy="542.7" r="1.35"/><circle cx="160.7" cy="535.0" r="1.35"/><circle cx="95.2" cy="504.8" r="1.35"/><circle cx="78.9" cy="517.5" r="1.35"/><circle cx="76.8" cy="522.2" r="1.35"/><circle cx="75.0" cy="563.0" r="1.35"/><circle cx="155.9" cy="531.9" r="1.35"/><circle cx="67.2" cy="539.5" r="1.35"/><circle cx="67.1" cy="529.1" r="1.35"/><circle cx="134.3" cy="496.3" r="1.35"/><circle cx="95.5" cy="501.7" r="1.35"/><circle cx="76.5" cy="553.7" r="1.35"/><circle cx="148.7" cy="501.6" r="1.35"/><circle cx="92.3" cy="500.5" r="1.35"/><circle cx="79.6" cy="536.3" r="1.35"/><circle cx="73.8" cy="544.8" r="1.35"/><circle cx="72.4" cy="543.5" r="1.35"/><circle cx="86.6" cy="521.4" r="1.35"/><circle cx="109.0" cy="555.1" r="1.35"/><circle cx="71.1" cy="560.3" r="1.35"/><circle cx="81.5" cy="535.7" r="1.35"/><circle cx="75.0" cy="526.3" r="1.35"/><circle cx="149.4" cy="507.2" r="1.35"/><circle cx="156.3" cy="542.4" r="1.35"/><circle cx="96.9" cy="504.9" r="1.35"/><circle cx="75.8" cy="517.1" r="1.35"/><circle cx="159.0" cy="533.0" r="1.35"/><circle cx="86.6" cy="575.6" r="1.35"/><circle cx="79.4" cy="506.4" r="1.35"/><circle cx="89.8" cy="580.1" r="1.35"/><circle cx="75.0" cy="527.3" r="1.35"/><circle cx="127.9" cy="489.4" r="1.35"/><circle cx="67.6" cy="545.2" r="1.35"/><circle cx="67.3" cy="529.4" r="1.35"/><circle cx="159.6" cy="546.1" r="1.35"/><circle cx="67.3" cy="548.8" r="1.35"/><circle cx="67.2" cy="538.8" r="1.35"/><circle cx="142.2" cy="500.0" r="1.35"/><circle cx="97.0" cy="503.0" r="1.35"/><circle cx="151.6" cy="515.9" r="1.35"/><circle cx="80.6" cy="510.0" r="1.35"/><circle cx="83.3" cy="514.3" r="1.35"/><circle cx="84.7" cy="510.2" r="1.35"/><circle cx="79.8" cy="508.4" r="1.35"/><circle cx="75.8" cy="522.9" r="1.35"/><circle cx="84.6" cy="573.8" r="1.35"/><circle cx="150.0" cy="503.5" r="1.35"/><circle cx="152.5" cy="563.3" r="1.35"/><circle cx="146.8" cy="497.1" r="1.35"/><circle cx="75.8" cy="560.5" r="1.35"/><circle cx="129.7" cy="488.9" r="1.35"/><circle cx="75.1" cy="558.3" r="1.35"/><circle cx="149.5" cy="568.4" r="1.35"/><circle cx="78.6" cy="549.4" r="1.35"/><circle cx="72.2" cy="523.9" r="1.35"/><circle cx="97.4" cy="493.5" r="1.35"/><circle cx="122.8" cy="488.2" r="1.35"/><circle cx="95.0" cy="497.3" r="1.35"/><circle cx="82.4" cy="570.8" r="1.35"/><circle cx="120.6" cy="492.4" r="1.35"/><circle cx="133.8" cy="492.4" r="1.35"/><circle cx="138.7" cy="488.8" r="1.35"/><circle cx="79.4" cy="516.7" r="1.35"/><circle cx="144.7" cy="497.5" r="1.35"/><circle cx="79.9" cy="527.2" r="1.35"/><circle cx="117.4" cy="546.7" r="1.35"/><circle cx="120.2" cy="509.6" r="1.35"/><circle cx="67.8" cy="544.0" r="1.35"/><circle cx="146.8" cy="509.5" r="1.35"/><circle cx="68.9" cy="542.2" r="1.35"/><circle cx="82.0" cy="529.4" r="1.35"/><circle cx="81.7" cy="532.4" r="1.35"/><circle cx="79.4" cy="553.6" r="1.35"/><circle cx="69.3" cy="559.8" r="1.35"/><circle cx="99.5" cy="503.3" r="1.35"/><circle cx="75.8" cy="511.1" r="1.35"/><circle cx="120.4" cy="498.4" r="1.35"/><circle cx="86.6" cy="517.5" r="1.35"/><circle cx="99.9" cy="510.2" r="1.35"/><circle cx="131.0" cy="495.9" r="1.35"/><circle cx="79.7" cy="536.0" r="1.35"/><circle cx="138.4" cy="487.7" r="1.35"/><circle cx="151.7" cy="506.8" r="1.35"/><circle cx="83.9" cy="510.8" r="1.35"/><circle cx="84.3" cy="514.1" r="1.35"/><circle cx="70.6" cy="551.1" r="1.35"/><circle cx="90.2" cy="575.2" r="1.35"/><circle cx="123.3" cy="492.9" r="1.35"/><circle cx="77.9" cy="529.2" r="1.35"/><circle cx="75.8" cy="560.8" r="1.35"/><circle cx="120.6" cy="495.7" r="1.35"/><circle cx="143.3" cy="504.9" r="1.35"/><circle cx="73.3" cy="552.4" r="1.35"/><circle cx="160.9" cy="543.7" r="1.35"/><circle cx="70.7" cy="539.1" r="1.35"/><circle cx="94.7" cy="495.0" r="1.35"/><circle cx="80.3" cy="535.1" r="1.35"/><circle cx="88.5" cy="510.8" r="1.35"/><circle cx="84.5" cy="508.2" r="1.35"/><circle cx="122.5" cy="491.3" r="1.35"/><circle cx="73.1" cy="536.2" r="1.35"/><circle cx="90.0" cy="577.7" r="1.35"/><circle cx="133.0" cy="488.1" r="1.35"/><circle cx="68.1" cy="535.6" r="1.35"/><circle cx="143.4" cy="501.9" r="1.35"/><circle cx="98.1" cy="498.2" r="1.35"/><circle cx="80.9" cy="541.8" r="1.35"/><circle cx="80.0" cy="532.6" r="1.35"/><circle cx="81.6" cy="561.4" r="1.35"/><circle cx="83.0" cy="529.7" r="1.35"/><circle cx="95.8" cy="495.8" r="1.35"/><circle cx="75.9" cy="569.4" r="1.35"/><circle cx="71.1" cy="524.6" r="1.35"/><circle cx="73.2" cy="550.5" r="1.35"/><circle cx="125.3" cy="494.4" r="1.35"/><circle cx="71.1" cy="525.2" r="1.35"/><circle cx="78.0" cy="564.2" r="1.35"/><circle cx="125.9" cy="495.0" r="1.35"/><circle cx="97.3" cy="503.8" r="1.35"/><circle cx="75.4" cy="553.6" r="1.35"/><circle cx="97.9" cy="496.0" r="1.35"/><circle cx="74.6" cy="516.7" r="1.35"/><circle cx="67.9" cy="534.3" r="1.35"/><circle cx="96.7" cy="501.4" r="1.35"/><circle cx="151.9" cy="510.3" r="1.35"/><circle cx="157.0" cy="520.9" r="1.35"/><circle cx="70.7" cy="543.0" r="1.35"/><circle cx="85.4" cy="571.3" r="1.35"/><circle cx="88.3" cy="505.0" r="1.35"/><circle cx="86.0" cy="524.7" r="1.35"/><circle cx="73.6" cy="560.6" r="1.35"/><circle cx="80.6" cy="531.2" r="1.35"/><circle cx="157.4" cy="548.4" r="1.35"/><circle cx="157.8" cy="526.8" r="1.35"/><circle cx="74.1" cy="557.3" r="1.35"/><circle cx="133.7" cy="489.2" r="1.35"/><circle cx="104.9" cy="525.8" r="1.35"/><circle cx="153.1" cy="508.5" r="1.35"/><circle cx="72.8" cy="566.0" r="1.35"/><circle cx="81.3" cy="503.6" r="1.35"/><circle cx="148.1" cy="570.9" r="1.35"/><circle cx="94.2" cy="498.5" r="1.35"/><circle cx="135.5" cy="489.4" r="1.35"/><circle cx="142.6" cy="493.1" r="1.35"/><circle cx="99.7" cy="508.8" r="1.35"/><circle cx="115.0" cy="563.2" r="1.35"/><circle cx="77.4" cy="543.2" r="1.35"/><circle cx="96.1" cy="502.4" r="1.35"/><circle cx="97.1" cy="491.8" r="1.35"/><circle cx="69.7" cy="551.3" r="1.35"/><circle cx="70.0" cy="528.3" r="1.35"/><circle cx="69.6" cy="540.5" r="1.35"/><circle cx="81.8" cy="506.3" r="1.35"/><circle cx="98.7" cy="501.5" r="1.35"/><circle cx="96.3" cy="491.1" r="1.35"/><circle cx="155.0" cy="522.0" r="1.35"/><circle cx="71.0" cy="535.0" r="1.35"/><circle cx="137.6" cy="498.3" r="1.35"/><circle cx="88.1" cy="515.7" r="1.35"/><circle cx="93.8" cy="504.8" r="1.35"/><circle cx="155.8" cy="553.2" r="1.35"/><circle cx="70.7" cy="538.1" r="1.35"/><circle cx="120.4" cy="496.9" r="1.35"/><circle cx="77.1" cy="518.3" r="1.35"/><circle cx="65.3" cy="540.3" r="1.35"/><circle cx="83.2" cy="502.5" r="1.35"/><circle cx="86.6" cy="505.1" r="1.35"/><circle cx="152.4" cy="509.2" r="1.35"/><circle cx="82.9" cy="505.7" r="1.35"/><circle cx="147.9" cy="499.3" r="1.35"/><circle cx="131.2" cy="486.2" r="1.35"/><circle cx="85.0" cy="498.5" r="1.35"/><circle cx="77.9" cy="558.7" r="1.35"/><circle cx="71.3" cy="546.1" r="1.35"/><circle cx="71.5" cy="537.6" r="1.35"/><circle cx="152.8" cy="515.3" r="1.35"/><circle cx="81.0" cy="539.5" r="1.35"/><circle cx="77.3" cy="567.1" r="1.35"/><circle cx="160.8" cy="532.1" r="1.35"/><circle cx="73.8" cy="556.3" r="1.35"/><circle cx="88.7" cy="495.5" r="1.35"/><circle cx="155.4" cy="519.5" r="1.35"/><circle cx="75.0" cy="568.5" r="1.35"/><circle cx="65.7" cy="546.8" r="1.35"/></g>
<path d="M112.5,588.3 L106.0,586.8 L100.0,583.5 L94.0,579.0 L88.5,573.5 L83.5,566.5 L80.5,558.0 L80.5,548.0 L83.0,538.0 L86.0,528.0 L88.0,519.0 L90.0,512.0 L92.0,507.5 L96.0,507.0 L100.0,511.0 L102.6,517.0 L105.0,530.0 L106.3,540.0 L107.8,550.2 L110.0,564.6 L112.3,579.8 L115.4,564.6 L117.6,550.2 L119.0,540.0 L119.7,530.0 L120.2,511.5 L120.6,502.0 L122.5,496.5 L127.0,495.0 L133.0,497.0 L139.0,501.0 L145.0,507.0 L150.0,514.0 L153.5,522.0 L155.5,532.0 L156.0,542.0 L155.0,552.0 L152.0,562.0 L148.5,570.0 L144.0,577.0 L138.0,582.5 L130.0,586.5 L120.0,588.3 Z" fill="#c5c4c9"/>
<g fill="#c5c4c9"><circle cx="107.6" cy="549.1" r="1.35"/><circle cx="79.1" cy="550.1" r="1.35"/><circle cx="154.4" cy="499.7" r="1.35"/><circle cx="79.3" cy="544.9" r="1.35"/><circle cx="81.2" cy="524.9" r="1.35"/><circle cx="117.1" cy="552.4" r="1.35"/><circle cx="133.2" cy="495.4" r="1.35"/><circle cx="130.1" cy="494.6" r="1.35"/><circle cx="163.0" cy="537.7" r="1.35"/><circle cx="134.3" cy="492.6" r="1.35"/><circle cx="140.6" cy="497.1" r="1.35"/><circle cx="76.2" cy="549.5" r="1.35"/><circle cx="156.2" cy="549.5" r="1.35"/><circle cx="95.9" cy="499.5" r="1.35"/><circle cx="135.8" cy="494.6" r="1.35"/><circle cx="158.1" cy="561.9" r="1.35"/><circle cx="157.2" cy="526.6" r="1.35"/><circle cx="115.1" cy="563.0" r="1.35"/><circle cx="91.5" cy="577.6" r="1.35"/><circle cx="155.6" cy="546.2" r="1.35"/><circle cx="80.5" cy="529.1" r="1.35"/><circle cx="77.5" cy="546.2" r="1.35"/><circle cx="80.0" cy="555.6" r="1.35"/><circle cx="165.7" cy="555.1" r="1.35"/><circle cx="96.0" cy="505.2" r="1.35"/><circle cx="84.0" cy="527.7" r="1.35"/><circle cx="156.0" cy="543.6" r="1.35"/><circle cx="67.2" cy="564.0" r="1.35"/><circle cx="82.1" cy="572.6" r="1.35"/><circle cx="78.2" cy="532.0" r="1.35"/><circle cx="100.5" cy="583.8" r="1.35"/><circle cx="155.6" cy="554.3" r="1.35"/><circle cx="139.8" cy="499.3" r="1.35"/><circle cx="159.5" cy="538.0" r="1.35"/><circle cx="168.1" cy="528.7" r="1.35"/><circle cx="149.9" cy="507.5" r="1.35"/><circle cx="144.7" cy="500.0" r="1.35"/><circle cx="118.9" cy="535.4" r="1.35"/><circle cx="75.8" cy="525.4" r="1.35"/><circle cx="154.5" cy="572.3" r="1.35"/><circle cx="126.6" cy="492.2" r="1.35"/><circle cx="157.6" cy="564.6" r="1.35"/><circle cx="123.6" cy="590.9" r="1.35"/><circle cx="106.0" cy="537.7" r="1.35"/><circle cx="144.0" cy="496.9" r="1.35"/><circle cx="94.0" cy="506.2" r="1.35"/><circle cx="123.0" cy="493.6" r="1.35"/><circle cx="119.1" cy="535.5" r="1.35"/><circle cx="145.1" cy="506.2" r="1.35"/><circle cx="82.9" cy="521.1" r="1.35"/><circle cx="83.9" cy="520.5" r="1.35"/><circle cx="169.8" cy="517.6" r="1.35"/><circle cx="73.1" cy="560.6" r="1.35"/><circle cx="89.6" cy="509.4" r="1.35"/><circle cx="155.5" cy="575.4" r="1.35"/><circle cx="79.2" cy="549.2" r="1.35"/><circle cx="117.4" cy="485.7" r="1.35"/><circle cx="136.8" cy="494.5" r="1.35"/><circle cx="117.9" cy="548.0" r="1.35"/><circle cx="80.1" cy="557.3" r="1.35"/><circle cx="99.6" cy="501.7" r="1.35"/><circle cx="92.8" cy="581.7" r="1.35"/><circle cx="160.2" cy="505.9" r="1.35"/><circle cx="114.9" cy="566.8" r="1.35"/><circle cx="76.5" cy="521.4" r="1.35"/><circle cx="154.9" cy="518.1" r="1.35"/><circle cx="149.5" cy="582.7" r="1.35"/><circle cx="100.9" cy="504.7" r="1.35"/><circle cx="150.0" cy="574.7" r="1.35"/><circle cx="166.2" cy="526.8" r="1.35"/><circle cx="127.9" cy="495.1" r="1.35"/><circle cx="75.3" cy="572.7" r="1.35"/><circle cx="86.2" cy="499.2" r="1.35"/><circle cx="86.8" cy="571.8" r="1.35"/><circle cx="85.5" cy="515.2" r="1.35"/><circle cx="156.5" cy="521.9" r="1.35"/><circle cx="79.8" cy="530.9" r="1.35"/><circle cx="90.7" cy="509.5" r="1.35"/><circle cx="111.8" cy="574.3" r="1.35"/><circle cx="125.0" cy="494.4" r="1.35"/><circle cx="124.6" cy="474.2" r="1.35"/><circle cx="161.4" cy="546.5" r="1.35"/><circle cx="156.2" cy="497.6" r="1.35"/><circle cx="84.2" cy="580.1" r="1.35"/><circle cx="144.4" cy="503.2" r="1.35"/><circle cx="130.1" cy="494.7" r="1.35"/><circle cx="88.9" cy="579.5" r="1.35"/><circle cx="83.0" cy="569.3" r="1.35"/><circle cx="85.5" cy="503.9" r="1.35"/><circle cx="80.5" cy="545.4" r="1.35"/><circle cx="155.8" cy="554.6" r="1.35"/><circle cx="68.2" cy="502.8" r="1.35"/><circle cx="119.9" cy="511.8" r="1.35"/><circle cx="154.4" cy="511.8" r="1.35"/><circle cx="54.2" cy="544.2" r="1.35"/><circle cx="98.8" cy="583.3" r="1.35"/><circle cx="67.7" cy="560.2" r="1.35"/><circle cx="150.3" cy="513.2" r="1.35"/><circle cx="80.3" cy="537.7" r="1.35"/><circle cx="120.1" cy="505.1" r="1.35"/><circle cx="137.0" cy="495.5" r="1.35"/><circle cx="161.1" cy="498.2" r="1.35"/><circle cx="136.6" cy="491.5" r="1.35"/><circle cx="158.9" cy="529.1" r="1.35"/><circle cx="160.8" cy="486.1" r="1.35"/><circle cx="87.3" cy="516.6" r="1.35"/><circle cx="154.2" cy="555.2" r="1.35"/><circle cx="87.9" cy="517.4" r="1.35"/><circle cx="143.7" cy="495.5" r="1.35"/><circle cx="153.4" cy="511.2" r="1.35"/><circle cx="158.4" cy="534.4" r="1.35"/><circle cx="141.0" cy="581.8" r="1.35"/><circle cx="155.2" cy="551.5" r="1.35"/><circle cx="150.9" cy="515.1" r="1.35"/><circle cx="77.3" cy="545.9" r="1.35"/><circle cx="120.2" cy="508.6" r="1.35"/><circle cx="119.6" cy="519.8" r="1.35"/><circle cx="82.6" cy="525.8" r="1.35"/><circle cx="81.4" cy="535.4" r="1.35"/><circle cx="84.6" cy="574.6" r="1.35"/><circle cx="90.4" cy="510.9" r="1.35"/><circle cx="123.0" cy="495.9" r="1.35"/><circle cx="120.4" cy="501.6" r="1.35"/><circle cx="68.6" cy="539.7" r="1.35"/><circle cx="166.5" cy="524.4" r="1.35"/><circle cx="81.8" cy="579.8" r="1.35"/><circle cx="96.8" cy="582.3" r="1.35"/><circle cx="78.8" cy="525.1" r="1.35"/><circle cx="156.8" cy="560.8" r="1.35"/><circle cx="158.8" cy="555.0" r="1.35"/><circle cx="129.4" cy="486.9" r="1.35"/><circle cx="75.4" cy="554.7" r="1.35"/><circle cx="162.2" cy="551.7" r="1.35"/><circle cx="81.9" cy="535.5" r="1.35"/><circle cx="83.2" cy="536.8" r="1.35"/><circle cx="174.5" cy="512.5" r="1.35"/><circle cx="95.8" cy="583.4" r="1.35"/><circle cx="74.6" cy="563.3" r="1.35"/><circle cx="110.2" cy="565.5" r="1.35"/><circle cx="89.7" cy="583.7" r="1.35"/><circle cx="119.1" cy="532.2" r="1.35"/><circle cx="137.4" cy="494.9" r="1.35"/><circle cx="99.4" cy="499.5" r="1.35"/><circle cx="158.0" cy="521.6" r="1.35"/><circle cx="81.2" cy="544.9" r="1.35"/><circle cx="151.0" cy="514.3" r="1.35"/><circle cx="75.7" cy="560.9" r="1.35"/><circle cx="80.5" cy="506.0" r="1.35"/><circle cx="142.0" cy="503.1" r="1.35"/><circle cx="83.5" cy="516.9" r="1.35"/><circle cx="87.7" cy="578.7" r="1.35"/><circle cx="146.4" cy="505.8" r="1.35"/><circle cx="116.6" cy="556.9" r="1.35"/><circle cx="80.5" cy="559.9" r="1.35"/><circle cx="91.4" cy="508.9" r="1.35"/><circle cx="103.4" cy="515.1" r="1.35"/><circle cx="96.8" cy="492.0" r="1.35"/><circle cx="119.6" cy="517.8" r="1.35"/><circle cx="90.3" cy="578.1" r="1.35"/><circle cx="97.9" cy="507.0" r="1.35"/><circle cx="153.0" cy="508.6" r="1.35"/><circle cx="128.0" cy="588.2" r="1.35"/><circle cx="149.0" cy="578.4" r="1.35"/><circle cx="132.9" cy="492.2" r="1.35"/><circle cx="103.1" cy="519.4" r="1.35"/><circle cx="148.8" cy="481.4" r="1.35"/><circle cx="131.6" cy="494.0" r="1.35"/><circle cx="157.2" cy="555.8" r="1.35"/><circle cx="92.5" cy="507.2" r="1.35"/><circle cx="146.7" cy="578.5" r="1.35"/><circle cx="81.7" cy="521.7" r="1.35"/><circle cx="91.0" cy="485.9" r="1.35"/><circle cx="139.8" cy="485.6" r="1.35"/><circle cx="89.1" cy="575.7" r="1.35"/><circle cx="88.5" cy="578.8" r="1.35"/><circle cx="161.3" cy="555.8" r="1.35"/><circle cx="157.3" cy="526.3" r="1.35"/><circle cx="84.9" cy="530.9" r="1.35"/><circle cx="157.2" cy="546.0" r="1.35"/><circle cx="163.7" cy="532.5" r="1.35"/><circle cx="115.8" cy="477.3" r="1.35"/><circle cx="80.0" cy="561.6" r="1.35"/><circle cx="82.8" cy="538.4" r="1.35"/><circle cx="84.3" cy="569.0" r="1.35"/><circle cx="80.2" cy="539.2" r="1.35"/><circle cx="148.6" cy="579.2" r="1.35"/><circle cx="156.2" cy="526.7" r="1.35"/><circle cx="108.1" cy="549.9" r="1.35"/><circle cx="163.1" cy="532.0" r="1.35"/><circle cx="151.4" cy="507.2" r="1.35"/><circle cx="125.8" cy="494.6" r="1.35"/><circle cx="149.7" cy="488.4" r="1.35"/><circle cx="159.1" cy="523.4" r="1.35"/><circle cx="78.8" cy="555.8" r="1.35"/><circle cx="175.1" cy="550.1" r="1.35"/><circle cx="154.2" cy="522.4" r="1.35"/><circle cx="85.4" cy="524.1" r="1.35"/><circle cx="122.8" cy="489.8" r="1.35"/><circle cx="85.5" cy="511.4" r="1.35"/><circle cx="86.5" cy="516.8" r="1.35"/><circle cx="163.7" cy="521.3" r="1.35"/><circle cx="127.4" cy="493.0" r="1.35"/><circle cx="146.1" cy="577.6" r="1.35"/><circle cx="168.0" cy="523.5" r="1.35"/><circle cx="166.7" cy="543.4" r="1.35"/><circle cx="152.5" cy="566.9" r="1.35"/><circle cx="57.3" cy="548.4" r="1.35"/><circle cx="160.3" cy="533.0" r="1.35"/><circle cx="73.3" cy="530.2" r="1.35"/><circle cx="94.2" cy="502.3" r="1.35"/><circle cx="119.5" cy="515.4" r="1.35"/><circle cx="125.0" cy="492.4" r="1.35"/><circle cx="159.7" cy="555.1" r="1.35"/><circle cx="130.0" cy="495.2" r="1.35"/><circle cx="93.1" cy="593.5" r="1.35"/><circle cx="154.3" cy="509.0" r="1.35"/><circle cx="77.1" cy="555.8" r="1.35"/><circle cx="96.5" cy="505.5" r="1.35"/><circle cx="67.2" cy="522.8" r="1.35"/><circle cx="156.1" cy="554.4" r="1.35"/><circle cx="157.1" cy="522.0" r="1.35"/><circle cx="160.2" cy="508.0" r="1.35"/><circle cx="125.5" cy="482.9" r="1.35"/><circle cx="90.3" cy="503.1" r="1.35"/><circle cx="85.4" cy="578.2" r="1.35"/><circle cx="147.5" cy="497.9" r="1.35"/><circle cx="119.1" cy="533.9" r="1.35"/><circle cx="96.1" cy="580.9" r="1.35"/><circle cx="84.7" cy="569.4" r="1.35"/><circle cx="81.6" cy="542.3" r="1.35"/><circle cx="75.2" cy="512.8" r="1.35"/><circle cx="77.9" cy="561.9" r="1.35"/><circle cx="74.1" cy="526.2" r="1.35"/><circle cx="90.5" cy="489.1" r="1.35"/><circle cx="91.6" cy="577.4" r="1.35"/><circle cx="156.0" cy="543.5" r="1.35"/><circle cx="92.1" cy="491.5" r="1.35"/><circle cx="81.2" cy="537.6" r="1.35"/><circle cx="129.3" cy="481.2" r="1.35"/><circle cx="96.5" cy="501.7" r="1.35"/><circle cx="155.1" cy="510.0" r="1.35"/><circle cx="77.4" cy="551.1" r="1.35"/><circle cx="107.1" cy="540.8" r="1.35"/><circle cx="165.6" cy="564.7" r="1.35"/><circle cx="81.5" cy="530.2" r="1.35"/><circle cx="83.4" cy="573.2" r="1.35"/><circle cx="157.6" cy="559.9" r="1.35"/><circle cx="159.3" cy="532.1" r="1.35"/><circle cx="75.8" cy="515.9" r="1.35"/><circle cx="171.8" cy="524.6" r="1.35"/><circle cx="120.4" cy="494.3" r="1.35"/><circle cx="73.9" cy="543.7" r="1.35"/><circle cx="119.9" cy="521.0" r="1.35"/><circle cx="129.5" cy="487.9" r="1.35"/><circle cx="93.1" cy="506.4" r="1.35"/><circle cx="86.0" cy="526.1" r="1.35"/><circle cx="130.9" cy="492.9" r="1.35"/><circle cx="80.9" cy="559.6" r="1.35"/><circle cx="149.7" cy="568.5" r="1.35"/><circle cx="177.1" cy="531.9" r="1.35"/><circle cx="75.1" cy="547.7" r="1.35"/><circle cx="99.9" cy="494.1" r="1.35"/><circle cx="98.5" cy="506.7" r="1.35"/><circle cx="72.4" cy="548.9" r="1.35"/><circle cx="146.1" cy="580.2" r="1.35"/><circle cx="118.0" cy="546.0" r="1.35"/><circle cx="148.5" cy="506.1" r="1.35"/><circle cx="160.9" cy="539.4" r="1.35"/><circle cx="162.1" cy="520.7" r="1.35"/><circle cx="149.7" cy="509.7" r="1.35"/><circle cx="99.2" cy="584.0" r="1.35"/><circle cx="157.8" cy="558.4" r="1.35"/><circle cx="146.6" cy="503.1" r="1.35"/><circle cx="79.1" cy="546.1" r="1.35"/><circle cx="165.9" cy="555.6" r="1.35"/><circle cx="134.9" cy="496.9" r="1.35"/><circle cx="115.5" cy="485.1" r="1.35"/><circle cx="81.4" cy="528.5" r="1.35"/><circle cx="80.5" cy="508.0" r="1.35"/><circle cx="128.6" cy="495.5" r="1.35"/><circle cx="78.5" cy="550.6" r="1.35"/><circle cx="146.5" cy="506.1" r="1.35"/><circle cx="97.4" cy="507.8" r="1.35"/><circle cx="108.8" cy="553.1" r="1.35"/><circle cx="158.3" cy="522.9" r="1.35"/><circle cx="159.6" cy="548.5" r="1.35"/><circle cx="157.1" cy="508.0" r="1.35"/><circle cx="86.8" cy="510.1" r="1.35"/><circle cx="132.3" cy="492.4" r="1.35"/><circle cx="88.4" cy="517.6" r="1.35"/><circle cx="74.8" cy="544.4" r="1.35"/><circle cx="162.2" cy="558.0" r="1.35"/><circle cx="69.8" cy="508.3" r="1.35"/><circle cx="94.6" cy="506.2" r="1.35"/><circle cx="87.9" cy="516.2" r="1.35"/><circle cx="83.2" cy="575.4" r="1.35"/><circle cx="141.1" cy="581.9" r="1.35"/><circle cx="82.5" cy="568.2" r="1.35"/><circle cx="113.7" cy="488.7" r="1.35"/><circle cx="157.2" cy="545.0" r="1.35"/><circle cx="60.5" cy="411.0" r="1.35"/><circle cx="64.6" cy="411.5" r="1.35"/><circle cx="65.1" cy="426.3" r="1.35"/><circle cx="81.6" cy="431.4" r="1.35"/><circle cx="93.5" cy="439.8" r="1.35"/><circle cx="79.8" cy="452.5" r="1.35"/><circle cx="83.3" cy="455.6" r="1.35"/><circle cx="92.5" cy="458.8" r="1.35"/><circle cx="159.8" cy="372.7" r="1.35"/><circle cx="80.1" cy="451.5" r="1.35"/><circle cx="79.0" cy="466.7" r="1.35"/><circle cx="73.8" cy="472.7" r="1.35"/><circle cx="80.1" cy="472.7" r="1.35"/><circle cx="85.7" cy="474.3" r="1.35"/><circle cx="95.7" cy="474.3" r="1.35"/><circle cx="97.5" cy="476.1" r="1.35"/><circle cx="100.2" cy="483.9" r="1.35"/><circle cx="102.9" cy="489.0" r="1.35"/><circle cx="135.9" cy="434.8" r="1.35"/><circle cx="144.8" cy="439.2" r="1.35"/><circle cx="150.0" cy="439.7" r="1.35"/><circle cx="145.9" cy="443.0" r="1.35"/><circle cx="161.6" cy="445.5" r="1.35"/><circle cx="138.6" cy="451.5" r="1.35"/><circle cx="151.5" cy="452.0" r="1.35"/><circle cx="153.8" cy="451.1" r="1.35"/><circle cx="135.9" cy="456.0" r="1.35"/><circle cx="142.6" cy="457.3" r="1.35"/><circle cx="136.6" cy="459.3" r="1.35"/><circle cx="128.1" cy="464.9" r="1.35"/><circle cx="139.2" cy="463.8" r="1.35"/><circle cx="137.7" cy="467.8" r="1.35"/><circle cx="141.5" cy="467.1" r="1.35"/><circle cx="154.9" cy="468.3" r="1.35"/><circle cx="150.4" cy="476.5" r="1.35"/><circle cx="162.7" cy="482.3" r="1.35"/><circle cx="133.7" cy="473.8" r="1.35"/><circle cx="139.2" cy="477.2" r="1.35"/></g>
<line x1="35.7" y1="362.3" x2="35.7" y2="597.4" stroke="#231f20" stroke-width="1.2" />
<line x1="35.1" y1="596.9" x2="273.3" y2="596.9" stroke="#231f20" stroke-width="1.2" />
<line x1="32.5" y1="586.2" x2="35.7" y2="586.2" stroke="#231f20" stroke-width="1.0" />
<text x="29.0" y="589.1" font-size="8.2" text-anchor="end" fill="#1c1c1c" stroke="#1c1c1c" stroke-width="0.18"  >0</text>
<line x1="32.5" y1="532.0" x2="35.7" y2="532.0" stroke="#231f20" stroke-width="1.0" />
<text x="29.0" y="534.9" font-size="8.2" text-anchor="end" fill="#1c1c1c" stroke="#1c1c1c" stroke-width="0.18"  >2</text>
<line x1="32.5" y1="477.7" x2="35.7" y2="477.7" stroke="#231f20" stroke-width="1.0" />
<text x="29.0" y="480.6" font-size="8.2" text-anchor="end" fill="#1c1c1c" stroke="#1c1c1c" stroke-width="0.18"  >4</text>
<line x1="32.5" y1="423.5" x2="35.7" y2="423.5" stroke="#231f20" stroke-width="1.0" />
<text x="29.0" y="426.4" font-size="8.2" text-anchor="end" fill="#1c1c1c" stroke="#1c1c1c" stroke-width="0.18"  >6</text>
<line x1="32.5" y1="369.2" x2="35.7" y2="369.2" stroke="#231f20" stroke-width="1.0" />
<text x="29.0" y="372.1" font-size="8.2" text-anchor="end" fill="#1c1c1c" stroke="#1c1c1c" stroke-width="0.18"  >8</text>
<line x1="60.1" y1="596.9" x2="60.1" y2="600.2" stroke="#231f20" stroke-width="1.0" />
<text x="60.1" y="610.6" font-size="8.2" text-anchor="middle" fill="#1c1c1c" stroke="#1c1c1c" stroke-width="0.18"  >−0.5</text>
<line x1="112.3" y1="596.9" x2="112.3" y2="600.2" stroke="#231f20" stroke-width="1.0" />
<text x="112.3" y="610.6" font-size="8.2" text-anchor="middle" fill="#1c1c1c" stroke="#1c1c1c" stroke-width="0.18"  >0.0</text>
<line x1="164.5" y1="596.9" x2="164.5" y2="600.2" stroke="#231f20" stroke-width="1.0" />
<text x="164.5" y="610.6" font-size="8.2" text-anchor="middle" fill="#1c1c1c" stroke="#1c1c1c" stroke-width="0.18"  >0.5</text>
<line x1="216.7" y1="596.9" x2="216.7" y2="600.2" stroke="#231f20" stroke-width="1.0" />
<text x="216.7" y="610.6" font-size="8.2" text-anchor="middle" fill="#1c1c1c" stroke="#1c1c1c" stroke-width="0.18"  >1.0</text>
<line x1="268.9" y1="596.9" x2="268.9" y2="600.2" stroke="#231f20" stroke-width="1.0" />
<text x="268.9" y="610.6" font-size="8.2" text-anchor="middle" fill="#1c1c1c" stroke="#1c1c1c" stroke-width="0.18"  >1.5</text>
<text x="92.3" y="624.4" font-size="9.9" text-anchor="start" fill="#1c1c1c" stroke="#1c1c1c" stroke-width="0.18"  textLength="123.9" lengthAdjust="spacingAndGlyphs" >Differential RNAi dependency score</text>
<text transform="translate(10.3,479.1) rotate(-90)" font-size="7.9" text-anchor="middle" fill="#1c1c1c" stroke="#1c1c1c" stroke-width="0.15" textLength="58.4" lengthAdjust="spacingAndGlyphs">−log10(<tspan font-style="italic">P</tspan> value)</text>
<line x1="36.0" y1="505.8" x2="274.2" y2="505.8" stroke="#231f20" stroke-width="1.0" stroke-dasharray="2.8 1.6"/>
<text x="225.8" y="515.8" font-size="8" text-anchor="start" fill="#1c1c1c" stroke="#1c1c1c" stroke-width="0.18"  textLength="39.2" lengthAdjust="spacingAndGlyphs" >FDR = 15%</text>
<circle cx="97.4" cy="544.0" r="5.4" fill="#c6d8ec" />
<circle cx="80.5" cy="556.6" r="5.3" fill="#dfe8f1" />
<circle cx="56.8" cy="424.5" r="3.4" fill="#194a87" stroke="#0f3566" stroke-width="0.5"/>
<circle cx="46.2" cy="466.5" r="3.4" fill="#194a87" stroke="#0f3566" stroke-width="0.5"/>
<circle cx="50.8" cy="481.5" r="3.4" fill="#194a87" stroke="#0f3566" stroke-width="0.5"/>
<circle cx="46.6" cy="503.2" r="3.4" fill="#194a87" stroke="#0f3566" stroke-width="0.5"/>
<circle cx="49.6" cy="505.2" r="3.4" fill="#194a87" stroke="#0f3566" stroke-width="0.5"/>
<circle cx="50.5" cy="521.4" r="3.4" fill="#194a87" stroke="#0f3566" stroke-width="0.5"/>
<circle cx="53.2" cy="519.5" r="3.4" fill="#194a87" stroke="#0f3566" stroke-width="0.5"/>
<circle cx="97.4" cy="544.0" r="3.4" fill="#194a87" stroke="#0f3566" stroke-width="0.5"/>
<circle cx="80.5" cy="556.6" r="3.4" fill="#194a87" stroke="#0f3566" stroke-width="0.5"/>
<circle cx="262.7" cy="486.9" r="3.45" fill="#c6052b" stroke="#a30020" stroke-width="0.5"/>
<circle cx="168.3" cy="499.1" r="3.45" fill="#c6052b" stroke="#a30020" stroke-width="0.5"/>
<circle cx="187.2" cy="503.1" r="3.45" fill="#c6052b" stroke="#a30020" stroke-width="0.5"/>
<circle cx="165.4" cy="508.9" r="3.45" fill="#c6052b" stroke="#a30020" stroke-width="0.5"/>
<circle cx="165.4" cy="516.6" r="3.45" fill="#c6052b" stroke="#a30020" stroke-width="0.5"/>
<circle cx="166.7" cy="519.7" r="3.45" fill="#c6052b" stroke="#a30020" stroke-width="0.5"/>
<circle cx="168.7" cy="523.1" r="3.45" fill="#c6052b" stroke="#a30020" stroke-width="0.5"/>
<circle cx="164.7" cy="539.5" r="3.45" fill="#c6052b" stroke="#a30020" stroke-width="0.5"/>
<circle cx="168.1" cy="541.8" r="3.45" fill="#c6052b" stroke="#a30020" stroke-width="0.5"/>
<circle cx="172.4" cy="537.4" r="3.45" fill="#c6052b" stroke="#a30020" stroke-width="0.5"/>
<circle cx="172.4" cy="546.8" r="3.45" fill="#c6052b" stroke="#a30020" stroke-width="0.5"/>
<circle cx="174.1" cy="549.0" r="3.45" fill="#c6052b" stroke="#a30020" stroke-width="0.5"/>
<circle cx="188.5" cy="544.3" r="3.45" fill="#c6052b" stroke="#a30020" stroke-width="0.5"/>
<line x1="55.5" y1="519.3" x2="71.3" y2="519.3" stroke="#231f20" stroke-width="0.9" />
<line x1="175.5" y1="538.0" x2="200.2" y2="539.0" stroke="#231f20" stroke-width="0.9" />
<line x1="159.3" y1="559.3" x2="169.4" y2="550.0" stroke="#231f20" stroke-width="0.9" />
<line x1="176.8" y1="557.3" x2="174.6" y2="551.2" stroke="#231f20" stroke-width="0.9" />
<text x="49.8" y="420.8" font-size="8.3" text-anchor="start" fill="#1c1c1c" stroke="#1c1c1c" stroke-width="0.18" font-style="italic" textLength="23.7" lengthAdjust="spacingAndGlyphs" >RPS4X</text>
<text x="40.8" y="476.3" font-size="8.3" text-anchor="start" fill="#1c1c1c" stroke="#1c1c1c" stroke-width="0.18" font-style="italic" textLength="22.3" lengthAdjust="spacingAndGlyphs" >TFDP1</text>
<text x="55.0" y="487.9" font-size="8.3" text-anchor="start" fill="#1c1c1c" stroke="#1c1c1c" stroke-width="0.18" font-style="italic" textLength="24.8" lengthAdjust="spacingAndGlyphs" >CEBPA</text>
<text x="43.5" y="498.8" font-size="8.3" text-anchor="start" fill="#1c1c1c" stroke="#1c1c1c" stroke-width="0.18" font-style="italic" textLength="17.7" lengthAdjust="spacingAndGlyphs" >TFRC</text>
<text x="53.9" y="511.6" font-size="8.3" text-anchor="start" fill="#1c1c1c" stroke="#1c1c1c" stroke-width="0.18" font-style="italic" textLength="23.4" lengthAdjust="spacingAndGlyphs" >CLSPN</text>
<text x="72.3" y="522.5" font-size="8.3" text-anchor="start" fill="#1c1c1c" stroke="#1c1c1c" stroke-width="0.18" font-style="italic" textLength="19.6" lengthAdjust="spacingAndGlyphs" >FLCN</text>
<text x="39.0" y="533.3" font-size="8.3" text-anchor="start" fill="#1c1c1c" stroke="#1c1c1c" stroke-width="0.18" font-style="italic" textLength="25.9" lengthAdjust="spacingAndGlyphs" >COPG1</text>
<text x="94.3" y="538.2" font-size="8.3" text-anchor="start" fill="#1c1c1c" stroke="#1c1c1c" stroke-width="0.18" font-style="italic" textLength="18.5" lengthAdjust="spacingAndGlyphs" >BCL2</text>
<text x="64.0" y="566.0" font-size="8.3" text-anchor="start" fill="#1c1c1c" stroke="#1c1c1c" stroke-width="0.18" font-style="italic" textLength="19.6" lengthAdjust="spacingAndGlyphs" >MCL1</text>
<text x="167.8" y="494.5" font-size="8.3" text-anchor="start" fill="#1c1c1c" stroke="#1c1c1c" stroke-width="0.18" font-style="italic" textLength="20.5" lengthAdjust="spacingAndGlyphs" >SF3B1</text>
<text x="130.7" y="504.2" font-size="8.3" text-anchor="start" fill="#1c1c1c" stroke="#1c1c1c" stroke-width="0.18"  textLength="30.4" lengthAdjust="spacingAndGlyphs" >NKX2−8</text>
<text x="181.9" y="513.8" font-size="8.3" text-anchor="start" fill="#1c1c1c" stroke="#1c1c1c" stroke-width="0.18"  textLength="25.0" lengthAdjust="spacingAndGlyphs" >GATA1</text>
<text x="121.6" y="517.3" font-size="8.3" text-anchor="start" fill="#1c1c1c" stroke="#1c1c1c" stroke-width="0.18" font-style="italic" textLength="38.3" lengthAdjust="spacingAndGlyphs" >PAFAH1B1</text>
<text x="124.3" y="528.3" font-size="8.3" text-anchor="start" fill="#1c1c1c" stroke="#1c1c1c" stroke-width="0.18" font-style="italic" textLength="35.6" lengthAdjust="spacingAndGlyphs" >RACGAP1</text>
<text x="169.4" y="532.6" font-size="8.3" text-anchor="start" fill="#1c1c1c" stroke="#1c1c1c" stroke-width="0.18" font-style="italic" textLength="24.6" lengthAdjust="spacingAndGlyphs" >RBMX2</text>
<text x="134.7" y="540.1" font-size="8.3" text-anchor="start" fill="#1c1c1c" stroke="#1c1c1c" stroke-width="0.18" font-style="italic" textLength="25.0" lengthAdjust="spacingAndGlyphs" >DHX16</text>
<text x="202.7" y="542.7" font-size="8.3" text-anchor="start" fill="#1c1c1c" stroke="#1c1c1c" stroke-width="0.18" font-style="italic" textLength="61.9" lengthAdjust="spacingAndGlyphs" >C15orf38−AP3S2</text>
<text x="142.5" y="551.2" font-size="8.3" text-anchor="start" fill="#1c1c1c" stroke="#1c1c1c" stroke-width="0.18" font-style="italic" textLength="22.9" lengthAdjust="spacingAndGlyphs" >HSPE1</text>
<text x="183.8" y="554.2" font-size="8.3" text-anchor="start" fill="#1c1c1c" stroke="#1c1c1c" stroke-width="0.18" font-style="italic" textLength="25.0" lengthAdjust="spacingAndGlyphs" >RUNX1</text>
<text x="130.1" y="562.7" font-size="8.3" text-anchor="start" fill="#1c1c1c" stroke="#1c1c1c" stroke-width="0.18" font-style="italic" textLength="26.1" lengthAdjust="spacingAndGlyphs" >PSMA6</text>
<text x="164.0" y="564.7" font-size="8.3" text-anchor="start" fill="#1c1c1c" stroke="#1c1c1c" stroke-width="0.18" font-style="italic" textLength="24.9" lengthAdjust="spacingAndGlyphs" >PRMT5</text>
<text x="229.6" y="488.3" font-size="8.3" text-anchor="start" fill="#1c1c1c" stroke="#1c1c1c" stroke-width="0.18" font-style="italic" textLength="26.9" lengthAdjust="spacingAndGlyphs" >BCL2L1</text>
<text x="310.8" y="324.8" font-size="11.8" text-anchor="start" fill="#111" stroke="#111" stroke-width="0.18" font-weight="bold" >D</text>
<text x="395.8" y="354.7" font-size="9.9" fill="#1c1c1c" stroke="#1c1c1c" stroke-width="0.15" textLength="104.5" lengthAdjust="spacingAndGlyphs"><tspan font-style="italic">BCL2L1</tspan> (Achilles RNAi)</text>
<rect x="381.90" y="363.40" width="102.00" height="10.00" fill="#f48f00"/>
<line x1="372.0" y1="368.4" x2="375.4" y2="368.4" stroke="#231f20" stroke-width="1.0" />
<text x="368.4" y="371.3" font-size="8.5" text-anchor="end" fill="#1c1c1c" stroke="#1c1c1c" stroke-width="0.18"  textLength="18.3" lengthAdjust="spacingAndGlyphs" >CMK</text>
<rect x="398.00" y="375.04" width="85.90" height="10.00" fill="#f48f00"/>
<line x1="372.0" y1="380.0" x2="375.4" y2="380.0" stroke="#231f20" stroke-width="1.0" />
<text x="368.4" y="382.9" font-size="8.5" text-anchor="end" fill="#1c1c1c" stroke="#1c1c1c" stroke-width="0.18"  textLength="32.5" lengthAdjust="spacingAndGlyphs" >CMK115</text>
<rect x="398.90" y="386.68" width="85.00" height="10.00" fill="#c6052b"/>
<line x1="372.0" y1="391.7" x2="375.4" y2="391.7" stroke="#231f20" stroke-width="1.0" />
<text x="368.4" y="394.6" font-size="8.5" text-anchor="end" fill="#1c1c1c" stroke="#1c1c1c" stroke-width="0.18"  textLength="33.4" lengthAdjust="spacingAndGlyphs" >HEL9217</text>
<rect x="425.70" y="398.32" width="58.20" height="10.00" fill="#c6052b"/>
<line x1="372.0" y1="403.3" x2="375.4" y2="403.3" stroke="#231f20" stroke-width="1.0" />
<text x="368.4" y="406.2" font-size="8.5" text-anchor="end" fill="#1c1c1c" stroke="#1c1c1c" stroke-width="0.18"  textLength="14.7" lengthAdjust="spacingAndGlyphs" >HEL</text>
<rect x="427.30" y="409.96" width="56.60" height="10.00" fill="#f48f00"/>
<line x1="372.0" y1="415.0" x2="375.4" y2="415.0" stroke="#231f20" stroke-width="1.0" />
<text x="368.4" y="417.9" font-size="8.5" text-anchor="end" fill="#1c1c1c" stroke="#1c1c1c" stroke-width="0.18"  textLength="35.3" lengthAdjust="spacingAndGlyphs" >MOLM16</text>
<rect x="445.80" y="421.60" width="38.10" height="10.00" fill="#c6052b"/>
<line x1="372.0" y1="426.6" x2="375.4" y2="426.6" stroke="#231f20" stroke-width="1.0" />
<text x="368.4" y="429.5" font-size="8.5" text-anchor="end" fill="#1c1c1c" stroke="#1c1c1c" stroke-width="0.18"  textLength="18.4" lengthAdjust="spacingAndGlyphs" >F36P</text>
<rect x="458.20" y="433.24" width="25.70" height="10.00" fill="#c8c7cc"/>
<line x1="372.0" y1="438.2" x2="375.4" y2="438.2" stroke="#231f20" stroke-width="1.0" />
<text x="368.4" y="441.1" font-size="8.5" text-anchor="end" fill="#1c1c1c" stroke="#1c1c1c" stroke-width="0.18"  textLength="19.5" lengthAdjust="spacingAndGlyphs" >U937</text>
<rect x="463.30" y="444.88" width="20.60" height="10.00" fill="#c8c7cc"/>
<line x1="372.0" y1="449.9" x2="375.4" y2="449.9" stroke="#231f20" stroke-width="1.0" />
<text x="368.4" y="452.8" font-size="8.5" text-anchor="end" fill="#1c1c1c" stroke="#1c1c1c" stroke-width="0.18"  textLength="35.6" lengthAdjust="spacingAndGlyphs" >KASUMI1</text>
<rect x="473.00" y="456.52" width="10.90" height="10.00" fill="#c8c7cc"/>
<line x1="372.0" y1="461.5" x2="375.4" y2="461.5" stroke="#231f20" stroke-width="1.0" />
<text x="368.4" y="464.4" font-size="8.5" text-anchor="end" fill="#1c1c1c" stroke="#1c1c1c" stroke-width="0.18"  textLength="37.2" lengthAdjust="spacingAndGlyphs" >OCIAML2</text>
<rect x="474.30" y="468.16" width="9.60" height="10.00" fill="#c8c7cc"/>
<line x1="372.0" y1="473.2" x2="375.4" y2="473.2" stroke="#231f20" stroke-width="1.0" />
<text x="368.4" y="476.1" font-size="8.5" text-anchor="end" fill="#1c1c1c" stroke="#1c1c1c" stroke-width="0.18"  textLength="35.3" lengthAdjust="spacingAndGlyphs" >MOLM13</text>
<rect x="478.20" y="479.80" width="5.70" height="10.00" fill="#c8c7cc"/>
<line x1="372.0" y1="484.8" x2="375.4" y2="484.8" stroke="#231f20" stroke-width="1.0" />
<text x="368.4" y="487.7" font-size="8.5" text-anchor="end" fill="#1c1c1c" stroke="#1c1c1c" stroke-width="0.18"  textLength="31.2" lengthAdjust="spacingAndGlyphs" >AML193</text>
<rect x="479.50" y="491.44" width="4.40" height="10.00" fill="#c8c7cc"/>
<line x1="372.0" y1="496.4" x2="375.4" y2="496.4" stroke="#231f20" stroke-width="1.0" />
<text x="368.4" y="499.3" font-size="8.5" text-anchor="end" fill="#1c1c1c" stroke="#1c1c1c" stroke-width="0.18"  textLength="15.6" lengthAdjust="spacingAndGlyphs" >NB4</text>
<rect x="483.90" y="503.08" width="5.00" height="10.00" fill="#c8c7cc"/>
<line x1="372.0" y1="508.1" x2="375.4" y2="508.1" stroke="#231f20" stroke-width="1.0" />
<text x="368.4" y="511.0" font-size="8.5" text-anchor="end" fill="#1c1c1c" stroke="#1c1c1c" stroke-width="0.18"  textLength="32.2" lengthAdjust="spacingAndGlyphs" >NOMO1</text>
<rect x="483.90" y="514.72" width="5.00" height="10.00" fill="#c8c7cc"/>
<line x1="372.0" y1="519.7" x2="375.4" y2="519.7" stroke="#231f20" stroke-width="1.0" />
<text x="368.4" y="522.6" font-size="8.5" text-anchor="end" fill="#1c1c1c" stroke="#1c1c1c" stroke-width="0.18"  textLength="51.5" lengthAdjust="spacingAndGlyphs" >MONOMAC6</text>
<rect x="483.90" y="526.36" width="14.20" height="10.00" fill="#c8c7cc"/>
<line x1="372.0" y1="531.4" x2="375.4" y2="531.4" stroke="#231f20" stroke-width="1.0" />
<text x="368.4" y="534.3" font-size="8.5" text-anchor="end" fill="#1c1c1c" stroke="#1c1c1c" stroke-width="0.18"  textLength="19.5" lengthAdjust="spacingAndGlyphs" >THP1</text>
<rect x="483.90" y="538.00" width="14.20" height="10.00" fill="#c8c7cc"/>
<line x1="372.0" y1="543.0" x2="375.4" y2="543.0" stroke="#231f20" stroke-width="1.0" />
<text x="368.4" y="545.9" font-size="8.5" text-anchor="end" fill="#1c1c1c" stroke="#1c1c1c" stroke-width="0.18"  textLength="37.2" lengthAdjust="spacingAndGlyphs" >OCIAML5</text>
<rect x="483.90" y="549.64" width="15.20" height="10.00" fill="#c8c7cc"/>
<line x1="372.0" y1="554.6" x2="375.4" y2="554.6" stroke="#231f20" stroke-width="1.0" />
<text x="368.4" y="557.5" font-size="8.5" text-anchor="end" fill="#1c1c1c" stroke="#1c1c1c" stroke-width="0.18"  textLength="19.1" lengthAdjust="spacingAndGlyphs" >HL60</text>
<rect x="483.90" y="561.28" width="15.20" height="10.00" fill="#c8c7cc"/>
<line x1="372.0" y1="566.3" x2="375.4" y2="566.3" stroke="#231f20" stroke-width="1.0" />
<text x="368.4" y="569.2" font-size="8.5" text-anchor="end" fill="#1c1c1c" stroke="#1c1c1c" stroke-width="0.18"  textLength="37.1" lengthAdjust="spacingAndGlyphs" >OCIAML3</text>
<rect x="483.90" y="572.92" width="16.70" height="10.00" fill="#c8c7cc"/>
<line x1="372.0" y1="577.9" x2="375.4" y2="577.9" stroke="#231f20" stroke-width="1.0" />
<text x="368.4" y="580.8" font-size="8.5" text-anchor="end" fill="#1c1c1c" stroke="#1c1c1c" stroke-width="0.18"  textLength="51.6" lengthAdjust="spacingAndGlyphs" >MONOMAC1</text>
<rect x="483.90" y="584.56" width="29.50" height="10.00" fill="#c8c7cc"/>
<line x1="372.0" y1="589.6" x2="375.4" y2="589.6" stroke="#231f20" stroke-width="1.0" />
<text x="368.4" y="592.5" font-size="8.5" text-anchor="end" fill="#1c1c1c" stroke="#1c1c1c" stroke-width="0.18"  textLength="26.3" lengthAdjust="spacingAndGlyphs" >MV411</text>
<line x1="375.4" y1="362.2" x2="375.4" y2="597.0" stroke="#231f20" stroke-width="1.2" />
<line x1="374.8" y1="596.5" x2="520.0" y2="596.5" stroke="#231f20" stroke-width="1.2" />
<line x1="381.8" y1="596.5" x2="381.8" y2="599.8" stroke="#231f20" stroke-width="1.0" />
<text x="381.8" y="610.6" font-size="8.2" text-anchor="middle" fill="#1c1c1c" stroke="#1c1c1c" stroke-width="0.18"  >−2</text>
<line x1="432.8" y1="596.5" x2="432.8" y2="599.8" stroke="#231f20" stroke-width="1.0" />
<text x="432.8" y="610.6" font-size="8.2" text-anchor="middle" fill="#1c1c1c" stroke="#1c1c1c" stroke-width="0.18"  >−1</text>
<line x1="483.8" y1="596.5" x2="483.8" y2="599.8" stroke="#231f20" stroke-width="1.0" />
<text x="483.8" y="610.6" font-size="8.2" text-anchor="middle" fill="#1c1c1c" stroke="#1c1c1c" stroke-width="0.18"  >0</text>
<text x="415.6" y="622.9" font-size="9.9" text-anchor="start" fill="#1c1c1c" stroke="#1c1c1c" stroke-width="0.18"  textLength="64.0" lengthAdjust="spacingAndGlyphs" >Dependency score</text>
<rect x="384.00" y="545.70" width="10.90" height="10.90" fill="#c6052b"/>
<rect x="384.00" y="563.10" width="10.90" height="10.80" fill="#f48f00"/>
<rect x="384.00" y="580.30" width="10.90" height="10.90" fill="#c8c7cc"/>
<text x="398.4" y="553.7" font-size="8" text-anchor="start" fill="#1c1c1c" stroke="#1c1c1c" stroke-width="0.18"  textLength="51.3" lengthAdjust="spacingAndGlyphs" >Erythroid AML</text>
<text x="398.4" y="565.8" font-size="8" text-anchor="start" fill="#1c1c1c" stroke="#1c1c1c" stroke-width="0.18"  textLength="62.2" lengthAdjust="spacingAndGlyphs" >Megakaryoblastic</text>
<text x="398.4" y="575.1" font-size="8" text-anchor="start" fill="#1c1c1c" stroke="#1c1c1c" stroke-width="0.18"  textLength="14.6" lengthAdjust="spacingAndGlyphs" >AML</text>
<text x="398.4" y="588.3" font-size="8" text-anchor="start" fill="#1c1c1c" stroke="#1c1c1c" stroke-width="0.18"  textLength="39.2" lengthAdjust="spacingAndGlyphs" >Other AML</text>
</svg>
</body></html>
